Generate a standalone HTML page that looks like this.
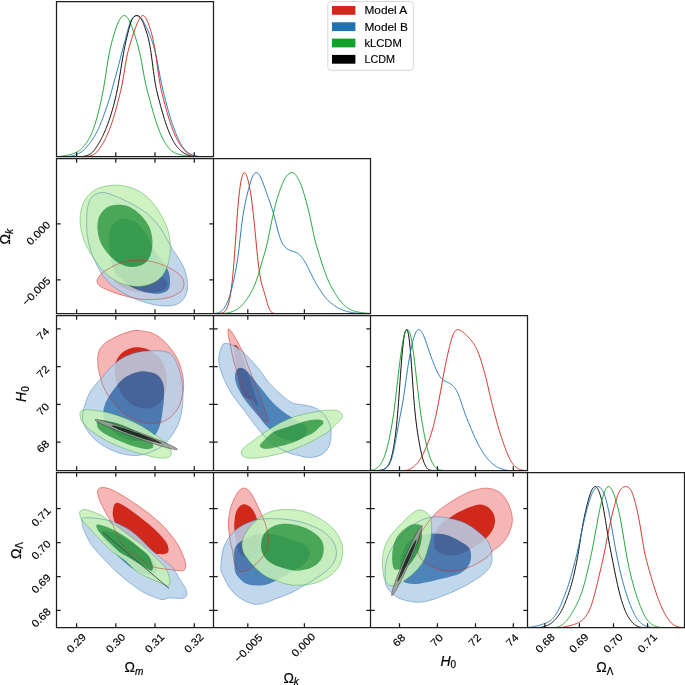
<!DOCTYPE html>
<html><head><meta charset="utf-8"><style>html,body{margin:0;padding:0;background:#fff;overflow:hidden}svg{display:block} svg{will-change:transform}</style></head>
<body><svg width="685" height="685" viewBox="0 0 685 685">
<rect width="685" height="685" fill="#fff"/>
<defs>
<clipPath id="cp00"><rect x="56.5" y="1.5" width="157" height="155.0"/></clipPath>
<clipPath id="cp10"><rect x="56.5" y="158.5" width="157" height="155.0"/></clipPath>
<clipPath id="cp11"><rect x="213.5" y="158.5" width="157" height="155.0"/></clipPath>
<clipPath id="cp20"><rect x="56.5" y="315.5" width="157" height="155.0"/></clipPath>
<clipPath id="cp21"><rect x="213.5" y="315.5" width="157" height="155.0"/></clipPath>
<clipPath id="cp22"><rect x="370.5" y="315.5" width="157" height="155.0"/></clipPath>
<clipPath id="cp30"><rect x="56.5" y="472.5" width="157" height="155.0"/></clipPath>
<clipPath id="cp31"><rect x="213.5" y="472.5" width="157" height="155.0"/></clipPath>
<clipPath id="cp32"><rect x="370.5" y="472.5" width="157" height="155.0"/></clipPath>
<clipPath id="cp33"><rect x="527.5" y="472.5" width="157" height="155.0"/></clipPath>
</defs>
<g clip-path="url(#cp10)">
<g><path d="M97.06,280.26C97.48,278.45 99.18,275.88 100.98,274.03C102.79,272.19 104.64,271.03 107.9,269.19C111.17,267.34 115.78,264.46 120.59,262.96C125.4,261.46 131.36,260.38 136.74,260.19C142.12,260 147.5,260.58 152.89,261.81C158.27,263.04 164.42,265.27 169.03,267.57C173.65,269.88 178.07,272.96 180.57,275.65C183.07,278.34 184.03,281.03 184.03,283.72C184.03,286.41 183.45,289.41 180.57,291.79C177.68,294.18 172.11,296.72 166.73,298.02C161.34,299.33 153.58,299.6 148.27,299.64C142.97,299.68 140.08,299.25 134.89,298.25C129.7,297.25 122.32,295.29 117.13,293.64C111.94,291.99 106.87,289.8 103.75,288.33C100.64,286.87 99.56,286.22 98.45,284.87C97.33,283.53 96.64,282.07 97.06,280.26Z" fill="rgb(247,182,182)"/>
<path d="M167.31,285.02C167.22,285.61 167.01,286.19 166.7,286.75C166.38,287.3 165.95,287.83 165.43,288.33C164.9,288.82 164.26,289.29 163.54,289.72C162.81,290.15 161.98,290.54 161.07,290.89C160.17,291.24 159.16,291.55 158.09,291.81C157.03,292.08 155.87,292.29 154.68,292.46C153.48,292.63 152.2,292.75 150.9,292.82C149.6,292.89 148.23,292.91 146.86,292.88C145.49,292.85 144.07,292.77 142.66,292.65C141.25,292.52 139.81,292.34 138.39,292.11C136.98,291.89 135.56,291.62 134.17,291.3C132.79,290.99 131.42,290.63 130.1,290.23C128.79,289.83 127.5,289.39 126.28,288.92C125.06,288.45 123.89,287.94 122.8,287.41C121.71,286.88 120.68,286.32 119.75,285.74C118.82,285.16 117.96,284.56 117.2,283.94C116.45,283.33 115.78,282.7 115.22,282.07C114.66,281.44 114.2,280.79 113.85,280.16C113.51,279.52 113.27,278.88 113.14,278.26C113.01,277.64 112.99,277.02 113.09,276.43C113.18,275.83 113.39,275.25 113.7,274.7C114.02,274.15 114.44,273.61 114.97,273.12C115.5,272.62 116.13,272.15 116.86,271.72C117.59,271.3 118.42,270.9 119.32,270.55C120.23,270.2 121.24,269.89 122.3,269.63C123.37,269.37 124.52,269.15 125.72,268.98C126.92,268.81 128.19,268.69 129.5,268.62C130.8,268.55 132.16,268.53 133.54,268.56C134.91,268.59 136.33,268.67 137.74,268.8C139.15,268.93 140.59,269.11 142,269.33C143.42,269.55 144.84,269.83 146.22,270.14C147.6,270.46 148.98,270.82 150.29,271.21C151.61,271.61 152.9,272.05 154.12,272.52C155.33,272.99 156.51,273.5 157.59,274.03C158.68,274.56 159.71,275.12 160.65,275.7C161.58,276.28 162.44,276.89 163.19,277.5C163.95,278.11 164.62,278.75 165.18,279.38C165.73,280.01 166.19,280.65 166.54,281.29C166.89,281.92 167.13,282.56 167.26,283.18C167.39,283.8 167.41,284.42 167.31,285.02Z" fill="rgb(208,41,28)"/>
</g>
<g opacity="0.85"><path d="M100.98,192.6C103.67,192.22 105.79,192.79 109.06,193.76C112.32,194.72 116.36,196.45 120.59,198.37C124.82,200.29 129.82,202.6 134.43,205.29C139.04,207.98 144.04,210.86 148.27,214.52C152.5,218.17 156.73,223.17 159.81,227.2C162.88,231.24 164.61,235.09 166.73,238.74C168.84,242.39 170.38,245.66 172.49,249.12C174.61,252.58 177.3,255.85 179.41,259.5C181.53,263.15 183.84,267 185.18,271.03C186.53,275.07 187.3,279.88 187.49,283.72C187.68,287.57 187.49,291.03 186.33,294.1C185.18,297.18 183.07,300.25 180.57,302.18C178.07,304.1 174.8,305.06 171.34,305.64C167.88,306.21 164.04,306.14 159.81,305.64C155.58,305.14 150.58,303.98 145.97,302.64C141.35,301.29 136.55,299.56 132.12,297.56C127.7,295.56 123.09,292.95 119.44,290.64C115.78,288.33 113.09,286.41 110.21,283.72C107.33,281.03 104.44,277.76 102.14,274.49C99.83,271.23 98.29,268.15 96.37,264.11C94.45,260.08 92.14,255.27 90.6,250.27C89.06,245.27 87.8,239.51 87.14,234.12C86.49,228.74 86.49,222.98 86.68,217.98C86.87,212.98 87.26,207.79 88.3,204.14C89.33,200.48 90.79,197.98 92.91,196.06C95.02,194.14 98.29,192.99 100.98,192.6Z" fill="rgb(183,209,233)"/>
<path d="M119.44,219.13C122.32,217.4 124.63,218.55 127.51,219.13C130.39,219.71 133.66,220.09 136.74,222.59C139.81,225.09 143.47,230.28 145.97,234.12C148.46,237.97 149.81,242.2 151.73,245.66C153.65,249.12 155.38,251.81 157.5,254.89C159.61,257.96 162.5,261.04 164.42,264.11C166.34,267.19 168.11,270.07 169.03,273.34C169.96,276.61 170.26,280.84 169.96,283.72C169.65,286.6 169.26,288.99 167.19,290.64C165.11,292.29 161.42,293.45 157.5,293.64C153.58,293.83 148.16,292.99 143.66,291.79C139.16,290.6 134.16,288.6 130.51,286.49C126.86,284.37 124.28,281.3 121.74,279.11C119.21,276.92 117.01,276.22 115.28,273.34C113.55,270.46 112.32,265.65 111.36,261.81C110.4,257.96 109.71,255.65 109.52,250.27C109.33,244.89 108.56,234.7 110.21,229.51C111.86,224.32 116.55,220.86 119.44,219.13Z" fill="rgb(46,111,175)"/>
</g>
<g opacity="0.85"><path d="M112.52,185.22C117.71,184.8 122.71,185.37 127.51,186.6C132.32,187.83 137.12,189.87 141.35,192.6C145.58,195.33 149.43,198.95 152.89,202.98C156.35,207.02 159.54,212.02 162.11,216.82C164.69,221.63 166.96,226.82 168.34,231.82C169.73,236.82 170.38,241.81 170.42,246.81C170.46,251.81 169.76,257.19 168.57,261.81C167.38,266.42 165.69,271.03 163.27,274.49C160.84,277.95 157.69,280.61 154.04,282.57C150.39,284.53 145.77,285.8 141.35,286.26C136.93,286.72 131.93,286.34 127.51,285.34C123.09,284.34 118.86,282.64 114.82,280.26C110.79,277.88 106.94,274.88 103.29,271.03C99.64,267.19 95.98,262 92.91,257.19C89.83,252.39 86.91,247.39 84.84,242.2C82.76,237.01 81.11,231.24 80.45,226.05C79.8,220.86 79.99,215.67 80.91,211.06C81.84,206.44 83.41,202.02 85.99,198.37C88.56,194.72 91.95,191.33 96.37,189.14C100.79,186.95 107.33,185.64 112.52,185.22Z" fill="rgb(198,241,183)"/>
<path d="M117.13,204.83C120.98,204.71 125.78,205.1 129.82,206.9C133.85,208.71 138.08,212.29 141.35,215.67C144.62,219.05 147.58,222.98 149.43,227.2C151.27,231.43 152.23,236.43 152.42,241.04C152.62,245.66 152.04,251.04 150.58,254.89C149.12,258.73 146.73,262.08 143.66,264.11C140.58,266.15 135.97,267.11 132.12,267.11C128.28,267.11 124.44,266.15 120.59,264.11C116.75,262.08 112.32,258.35 109.06,254.89C105.79,251.43 102.91,247.58 100.98,243.35C99.06,239.12 97.83,233.93 97.52,229.51C97.21,225.09 97.6,220.48 99.14,216.82C100.68,213.17 103.75,209.6 106.75,207.6C109.75,205.6 113.29,204.94 117.13,204.83Z" fill="rgb(53,159,62)"/>
</g>
<path d="M97.06,280.26C97.48,278.45 99.18,275.88 100.98,274.03C102.79,272.19 104.64,271.03 107.9,269.19C111.17,267.34 115.78,264.46 120.59,262.96C125.4,261.46 131.36,260.38 136.74,260.19C142.12,260 147.5,260.58 152.89,261.81C158.27,263.04 164.42,265.27 169.03,267.57C173.65,269.88 178.07,272.96 180.57,275.65C183.07,278.34 184.03,281.03 184.03,283.72C184.03,286.41 183.45,289.41 180.57,291.79C177.68,294.18 172.11,296.72 166.73,298.02C161.34,299.33 153.58,299.6 148.27,299.64C142.97,299.68 140.08,299.25 134.89,298.25C129.7,297.25 122.32,295.29 117.13,293.64C111.94,291.99 106.87,289.8 103.75,288.33C100.64,286.87 99.56,286.22 98.45,284.87C97.33,283.53 96.64,282.07 97.06,280.26Z" fill="none" stroke="rgb(208,41,28)" stroke-opacity="0.55" stroke-width="0.9"/>
<path d="M100.98,192.6C103.67,192.22 105.79,192.79 109.06,193.76C112.32,194.72 116.36,196.45 120.59,198.37C124.82,200.29 129.82,202.6 134.43,205.29C139.04,207.98 144.04,210.86 148.27,214.52C152.5,218.17 156.73,223.17 159.81,227.2C162.88,231.24 164.61,235.09 166.73,238.74C168.84,242.39 170.38,245.66 172.49,249.12C174.61,252.58 177.3,255.85 179.41,259.5C181.53,263.15 183.84,267 185.18,271.03C186.53,275.07 187.3,279.88 187.49,283.72C187.68,287.57 187.49,291.03 186.33,294.1C185.18,297.18 183.07,300.25 180.57,302.18C178.07,304.1 174.8,305.06 171.34,305.64C167.88,306.21 164.04,306.14 159.81,305.64C155.58,305.14 150.58,303.98 145.97,302.64C141.35,301.29 136.55,299.56 132.12,297.56C127.7,295.56 123.09,292.95 119.44,290.64C115.78,288.33 113.09,286.41 110.21,283.72C107.33,281.03 104.44,277.76 102.14,274.49C99.83,271.23 98.29,268.15 96.37,264.11C94.45,260.08 92.14,255.27 90.6,250.27C89.06,245.27 87.8,239.51 87.14,234.12C86.49,228.74 86.49,222.98 86.68,217.98C86.87,212.98 87.26,207.79 88.3,204.14C89.33,200.48 90.79,197.98 92.91,196.06C95.02,194.14 98.29,192.99 100.98,192.6Z" fill="none" stroke="rgb(46,111,175)" stroke-opacity="0.4675" stroke-width="0.9"/>
<path d="M112.52,185.22C117.71,184.8 122.71,185.37 127.51,186.6C132.32,187.83 137.12,189.87 141.35,192.6C145.58,195.33 149.43,198.95 152.89,202.98C156.35,207.02 159.54,212.02 162.11,216.82C164.69,221.63 166.96,226.82 168.34,231.82C169.73,236.82 170.38,241.81 170.42,246.81C170.46,251.81 169.76,257.19 168.57,261.81C167.38,266.42 165.69,271.03 163.27,274.49C160.84,277.95 157.69,280.61 154.04,282.57C150.39,284.53 145.77,285.8 141.35,286.26C136.93,286.72 131.93,286.34 127.51,285.34C123.09,284.34 118.86,282.64 114.82,280.26C110.79,277.88 106.94,274.88 103.29,271.03C99.64,267.19 95.98,262 92.91,257.19C89.83,252.39 86.91,247.39 84.84,242.2C82.76,237.01 81.11,231.24 80.45,226.05C79.8,220.86 79.99,215.67 80.91,211.06C81.84,206.44 83.41,202.02 85.99,198.37C88.56,194.72 91.95,191.33 96.37,189.14C100.79,186.95 107.33,185.64 112.52,185.22Z" fill="none" stroke="rgb(53,159,62)" stroke-opacity="0.4675" stroke-width="0.9"/>
</g>
<g clip-path="url(#cp20)">
<g><path d="M137.89,330.46C141.74,330.76 148.46,331.61 152.89,333.45C157.31,335.3 160.77,338.07 164.42,341.53C168.07,344.99 172.11,349.99 174.8,354.22C177.49,358.44 179.11,362.29 180.57,366.9C182.03,371.52 183.26,377.09 183.57,381.9C183.87,386.7 183.49,391.12 182.41,395.74C181.34,400.35 179.72,405.54 177.11,409.58C174.49,413.62 170.76,417.65 166.73,419.96C162.69,422.27 157.5,423.23 152.89,423.42C148.27,423.61 143.66,422.65 139.04,421.11C134.43,419.58 129.43,417.27 125.2,414.19C120.98,411.12 116.94,406.5 113.67,402.66C110.4,398.81 107.71,394.97 105.6,391.12C103.48,387.28 102.25,383.82 100.98,379.59C99.71,375.36 98.37,370.36 97.98,365.75C97.6,361.14 97.41,355.75 98.68,351.91C99.94,348.06 102.33,345.37 105.6,342.68C108.86,339.99 114.25,337.61 118.28,335.76C122.32,333.92 126.55,332.49 129.82,331.61C133.09,330.72 134.05,330.15 137.89,330.46Z" fill="rgb(247,182,182)"/>
<path d="M139.04,347.3C142.51,347.68 146.73,348.45 150.58,350.76C154.42,353.06 159.5,357.1 162.11,361.14C164.73,365.17 165.69,369.98 166.27,374.98C166.84,379.98 166.65,386.51 165.57,391.12C164.5,395.74 162.69,399.78 159.81,402.66C156.92,405.54 152.5,407.85 148.27,408.43C144.04,409 138.66,408.23 134.43,406.12C130.2,404 125.9,399.78 122.9,395.74C119.9,391.7 117.78,386.9 116.44,381.9C115.09,376.9 114.13,370.36 114.82,365.75C115.52,361.14 118.09,357.1 120.59,354.22C123.09,351.33 126.74,349.6 129.82,348.45C132.89,347.3 135.58,346.91 139.04,347.3Z" fill="rgb(208,41,28)"/>
</g>
<g opacity="0.85"><path d="M152.89,350.76C157.11,350.68 161.34,350.87 164.42,351.45C167.5,352.02 169.42,352.6 171.34,354.22C173.26,355.83 174.42,357.68 175.95,361.14C177.49,364.6 179.41,369.98 180.57,374.98C181.72,379.98 182.57,385.74 182.87,391.12C183.18,396.51 182.99,402.27 182.41,407.27C181.84,412.27 180.88,416.88 179.41,421.11C177.95,425.34 176.15,428.8 173.65,432.65C171.15,436.49 167.88,441.11 164.42,444.18C160.96,447.26 157.11,449.26 152.89,451.1C148.66,452.95 143.66,454.68 139.04,455.25C134.43,455.83 129.82,455.45 125.2,454.56C120.59,453.68 115.98,452.06 111.36,449.95C106.75,447.83 101.56,445.14 97.52,441.87C93.49,438.61 89.64,434.18 87.14,430.34C84.64,426.5 82.91,423.04 82.53,418.81C82.14,414.58 83.49,409.58 84.84,404.97C86.18,400.35 87.72,395.74 90.6,391.12C93.49,386.51 98.29,381.71 102.14,377.28C105.98,372.86 109.83,368.06 113.67,364.6C117.51,361.14 120.98,358.64 125.2,356.52C129.43,354.41 134.43,352.87 139.04,351.91C143.66,350.95 148.66,350.83 152.89,350.76Z" fill="rgb(183,209,233)"/>
<path d="M145.97,371.52C149.43,371.98 154.62,372.86 157.5,374.98C160.38,377.09 162.19,380.36 163.27,384.2C164.34,388.05 164.15,393.05 163.96,398.04C163.77,403.04 162.81,409.58 162.11,414.19C161.42,418.81 160.96,422.27 159.81,425.73C158.65,429.19 157.11,432.65 155.19,434.95C153.27,437.26 152.12,438.61 148.27,439.57C144.43,440.53 137.12,441.49 132.12,440.72C127.13,439.95 122.71,437.84 118.28,434.95C113.86,432.07 108.1,427.26 105.6,423.42C103.1,419.58 103.1,415.73 103.29,411.89C103.48,408.04 104.64,404.58 106.75,400.35C108.86,396.12 112.9,390.36 115.98,386.51C119.05,382.67 121.74,379.67 125.2,377.28C128.66,374.9 133.28,373.17 136.74,372.21C140.2,371.25 142.51,371.06 145.97,371.52Z" fill="rgb(46,111,175)"/>
</g>
<g opacity="0.85"><path d="M81.37,410.73C83.49,409.66 87.53,409.46 92.91,410.04C98.29,410.62 106.37,411.96 113.67,414.19C120.98,416.42 129.82,419.96 136.74,423.42C143.66,426.88 150.19,431.49 155.19,434.95C160.19,438.41 164.04,441.3 166.73,444.18C169.42,447.06 170.96,450.14 171.34,452.25C171.72,454.37 170.96,455.91 169.03,456.87C167.11,457.83 164.04,458.41 159.81,458.02C155.58,457.64 149.43,456.1 143.66,454.56C137.89,453.02 131.36,451.1 125.2,448.79C119.05,446.49 112.52,443.8 106.75,440.72C100.98,437.65 94.64,433.42 90.6,430.34C86.57,427.26 84.26,424.57 82.53,422.27C80.8,419.96 80.41,418.42 80.22,416.5C80.03,414.58 79.26,411.81 81.37,410.73Z" fill="rgb(198,241,183)"/>
<path d="M98.68,419.96C101.44,419.58 108.1,420.73 113.67,422.27C119.24,423.8 126.55,426.69 132.12,429.19C137.7,431.69 143.66,434.76 147.12,437.26C150.58,439.76 152.12,442.34 152.89,444.18C153.65,446.03 153.27,447.56 151.73,448.33C150.19,449.1 147.7,449.49 143.66,448.79C139.62,448.1 132.89,446.1 127.51,444.18C122.13,442.26 115.98,439.57 111.36,437.26C106.75,434.95 102.21,432.45 99.83,430.34C97.45,428.23 97.25,426.3 97.06,424.57C96.87,422.84 95.91,420.34 98.68,419.96Z" fill="rgb(53,159,62)"/>
</g>
<g opacity="0.85"><path d="M177.4,449.45C177.35,449.6 177.12,449.69 176.73,449.71C176.34,449.74 175.78,449.7 175.07,449.6C174.35,449.5 173.47,449.34 172.44,449.12C171.42,448.9 170.23,448.61 168.93,448.28C167.62,447.94 166.16,447.54 164.6,447.1C163.04,446.66 161.35,446.16 159.58,445.62C157.81,445.08 155.92,444.49 153.98,443.86C152.04,443.24 150,442.57 147.94,441.88C145.88,441.19 143.74,440.46 141.61,439.72C139.48,438.98 137.3,438.2 135.15,437.43C133,436.66 130.82,435.86 128.71,435.07C126.59,434.28 124.48,433.49 122.45,432.7C120.42,431.92 118.43,431.14 116.53,430.38C114.64,429.63 112.81,428.88 111.1,428.16C109.39,427.45 107.77,426.76 106.28,426.1C104.8,425.45 103.42,424.83 102.2,424.26C100.98,423.68 99.89,423.14 98.96,422.66C98.03,422.18 97.24,421.74 96.63,421.36C96.01,420.98 95.56,420.65 95.27,420.39C94.99,420.12 94.87,419.91 94.92,419.76C94.98,419.61 95.2,419.53 95.59,419.5C95.98,419.48 96.54,419.52 97.26,419.62C97.97,419.72 98.86,419.88 99.88,420.1C100.9,420.32 102.09,420.6 103.4,420.94C104.7,421.27 106.16,421.67 107.72,422.11C109.28,422.56 110.97,423.06 112.74,423.6C114.51,424.14 116.4,424.73 118.34,425.35C120.28,425.98 122.32,426.65 124.38,427.34C126.45,428.03 128.58,428.76 130.71,429.5C132.85,430.24 135.03,431.01 137.18,431.79C139.33,432.56 141.5,433.36 143.62,434.14C145.73,434.93 147.84,435.73 149.87,436.51C151.9,437.29 153.9,438.08 155.79,438.83C157.68,439.59 159.51,440.34 161.22,441.05C162.93,441.76 164.56,442.46 166.04,443.11C167.52,443.76 168.9,444.39 170.12,444.96C171.34,445.53 172.44,446.07 173.37,446.56C174.3,447.04 175.08,447.48 175.7,447.86C176.31,448.24 176.77,448.56 177.05,448.83C177.33,449.1 177.45,449.31 177.4,449.45Z" fill="rgb(158,158,158)"/>
<path d="M161.96,443.42C161.93,443.52 161.79,443.57 161.56,443.59C161.32,443.6 160.97,443.58 160.54,443.53C160.1,443.47 159.56,443.37 158.93,443.24C158.31,443.11 157.58,442.94 156.78,442.74C155.98,442.54 155.09,442.3 154.14,442.04C153.19,441.77 152.15,441.47 151.07,441.15C149.98,440.83 148.83,440.47 147.64,440.1C146.45,439.72 145.21,439.32 143.95,438.91C142.69,438.49 141.38,438.05 140.08,437.61C138.77,437.16 137.44,436.7 136.12,436.23C134.81,435.77 133.48,435.29 132.18,434.81C130.89,434.34 129.6,433.86 128.36,433.39C127.12,432.92 125.9,432.44 124.74,431.99C123.58,431.53 122.46,431.08 121.41,430.65C120.37,430.22 119.37,429.8 118.47,429.41C117.56,429.01 116.72,428.64 115.97,428.29C115.22,427.94 114.55,427.62 113.98,427.32C113.42,427.03 112.93,426.77 112.56,426.53C112.18,426.3 111.9,426.1 111.73,425.94C111.55,425.78 111.48,425.65 111.51,425.56C111.55,425.47 111.68,425.41 111.92,425.4C112.16,425.38 112.5,425.4 112.94,425.46C113.38,425.52 113.92,425.61 114.54,425.74C115.17,425.87 115.89,426.04 116.69,426.24C117.49,426.44 118.38,426.68 119.34,426.95C120.29,427.21 121.33,427.51 122.41,427.83C123.49,428.16 124.65,428.51 125.84,428.89C127.02,429.26 128.27,429.66 129.53,430.08C130.79,430.49 132.1,430.93 133.4,431.38C134.7,431.82 136.04,432.29 137.35,432.75C138.67,433.22 140,433.7 141.29,434.17C142.59,434.65 143.88,435.13 145.12,435.6C146.36,436.07 147.58,436.54 148.74,437C149.9,437.45 151.02,437.91 152.06,438.34C153.11,438.77 154.1,439.19 155.01,439.58C155.92,439.97 156.76,440.35 157.51,440.7C158.25,441.04 158.92,441.37 159.49,441.66C160.06,441.95 160.54,442.22 160.92,442.45C161.29,442.68 161.57,442.88 161.75,443.04C161.92,443.21 161.99,443.33 161.96,443.42Z" fill="rgb(28,28,28)"/>
</g>
<path d="M137.89,330.46C141.74,330.76 148.46,331.61 152.89,333.45C157.31,335.3 160.77,338.07 164.42,341.53C168.07,344.99 172.11,349.99 174.8,354.22C177.49,358.44 179.11,362.29 180.57,366.9C182.03,371.52 183.26,377.09 183.57,381.9C183.87,386.7 183.49,391.12 182.41,395.74C181.34,400.35 179.72,405.54 177.11,409.58C174.49,413.62 170.76,417.65 166.73,419.96C162.69,422.27 157.5,423.23 152.89,423.42C148.27,423.61 143.66,422.65 139.04,421.11C134.43,419.58 129.43,417.27 125.2,414.19C120.98,411.12 116.94,406.5 113.67,402.66C110.4,398.81 107.71,394.97 105.6,391.12C103.48,387.28 102.25,383.82 100.98,379.59C99.71,375.36 98.37,370.36 97.98,365.75C97.6,361.14 97.41,355.75 98.68,351.91C99.94,348.06 102.33,345.37 105.6,342.68C108.86,339.99 114.25,337.61 118.28,335.76C122.32,333.92 126.55,332.49 129.82,331.61C133.09,330.72 134.05,330.15 137.89,330.46Z" fill="none" stroke="rgb(208,41,28)" stroke-opacity="0.55" stroke-width="0.9"/>
<path d="M152.89,350.76C157.11,350.68 161.34,350.87 164.42,351.45C167.5,352.02 169.42,352.6 171.34,354.22C173.26,355.83 174.42,357.68 175.95,361.14C177.49,364.6 179.41,369.98 180.57,374.98C181.72,379.98 182.57,385.74 182.87,391.12C183.18,396.51 182.99,402.27 182.41,407.27C181.84,412.27 180.88,416.88 179.41,421.11C177.95,425.34 176.15,428.8 173.65,432.65C171.15,436.49 167.88,441.11 164.42,444.18C160.96,447.26 157.11,449.26 152.89,451.1C148.66,452.95 143.66,454.68 139.04,455.25C134.43,455.83 129.82,455.45 125.2,454.56C120.59,453.68 115.98,452.06 111.36,449.95C106.75,447.83 101.56,445.14 97.52,441.87C93.49,438.61 89.64,434.18 87.14,430.34C84.64,426.5 82.91,423.04 82.53,418.81C82.14,414.58 83.49,409.58 84.84,404.97C86.18,400.35 87.72,395.74 90.6,391.12C93.49,386.51 98.29,381.71 102.14,377.28C105.98,372.86 109.83,368.06 113.67,364.6C117.51,361.14 120.98,358.64 125.2,356.52C129.43,354.41 134.43,352.87 139.04,351.91C143.66,350.95 148.66,350.83 152.89,350.76Z" fill="none" stroke="rgb(46,111,175)" stroke-opacity="0.4675" stroke-width="0.9"/>
<path d="M81.37,410.73C83.49,409.66 87.53,409.46 92.91,410.04C98.29,410.62 106.37,411.96 113.67,414.19C120.98,416.42 129.82,419.96 136.74,423.42C143.66,426.88 150.19,431.49 155.19,434.95C160.19,438.41 164.04,441.3 166.73,444.18C169.42,447.06 170.96,450.14 171.34,452.25C171.72,454.37 170.96,455.91 169.03,456.87C167.11,457.83 164.04,458.41 159.81,458.02C155.58,457.64 149.43,456.1 143.66,454.56C137.89,453.02 131.36,451.1 125.2,448.79C119.05,446.49 112.52,443.8 106.75,440.72C100.98,437.65 94.64,433.42 90.6,430.34C86.57,427.26 84.26,424.57 82.53,422.27C80.8,419.96 80.41,418.42 80.22,416.5C80.03,414.58 79.26,411.81 81.37,410.73Z" fill="none" stroke="rgb(53,159,62)" stroke-opacity="0.4675" stroke-width="0.9"/>
<path d="M177.4,449.45C177.35,449.6 177.12,449.69 176.73,449.71C176.34,449.74 175.78,449.7 175.07,449.6C174.35,449.5 173.47,449.34 172.44,449.12C171.42,448.9 170.23,448.61 168.93,448.28C167.62,447.94 166.16,447.54 164.6,447.1C163.04,446.66 161.35,446.16 159.58,445.62C157.81,445.08 155.92,444.49 153.98,443.86C152.04,443.24 150,442.57 147.94,441.88C145.88,441.19 143.74,440.46 141.61,439.72C139.48,438.98 137.3,438.2 135.15,437.43C133,436.66 130.82,435.86 128.71,435.07C126.59,434.28 124.48,433.49 122.45,432.7C120.42,431.92 118.43,431.14 116.53,430.38C114.64,429.63 112.81,428.88 111.1,428.16C109.39,427.45 107.77,426.76 106.28,426.1C104.8,425.45 103.42,424.83 102.2,424.26C100.98,423.68 99.89,423.14 98.96,422.66C98.03,422.18 97.24,421.74 96.63,421.36C96.01,420.98 95.56,420.65 95.27,420.39C94.99,420.12 94.87,419.91 94.92,419.76C94.98,419.61 95.2,419.53 95.59,419.5C95.98,419.48 96.54,419.52 97.26,419.62C97.97,419.72 98.86,419.88 99.88,420.1C100.9,420.32 102.09,420.6 103.4,420.94C104.7,421.27 106.16,421.67 107.72,422.11C109.28,422.56 110.97,423.06 112.74,423.6C114.51,424.14 116.4,424.73 118.34,425.35C120.28,425.98 122.32,426.65 124.38,427.34C126.45,428.03 128.58,428.76 130.71,429.5C132.85,430.24 135.03,431.01 137.18,431.79C139.33,432.56 141.5,433.36 143.62,434.14C145.73,434.93 147.84,435.73 149.87,436.51C151.9,437.29 153.9,438.08 155.79,438.83C157.68,439.59 159.51,440.34 161.22,441.05C162.93,441.76 164.56,442.46 166.04,443.11C167.52,443.76 168.9,444.39 170.12,444.96C171.34,445.53 172.44,446.07 173.37,446.56C174.3,447.04 175.08,447.48 175.7,447.86C176.31,448.24 176.77,448.56 177.05,448.83C177.33,449.1 177.45,449.31 177.4,449.45Z" fill="none" stroke="rgb(28,28,28)" stroke-opacity="0.4675" stroke-width="0.9"/>
</g>
<g clip-path="url(#cp21)">
<g><path d="M228.46,328.84C228.99,328.34 230.19,329.88 231.45,331.61C232.72,333.34 234.07,335.65 236.07,339.22C238.07,342.8 241.53,348.83 243.45,353.06C245.37,357.29 245.95,360.17 247.6,364.6C249.26,369.02 251.45,374.71 253.37,379.59C255.29,384.47 257.41,389.28 259.14,393.89C260.87,398.51 262.4,403.31 263.75,407.27C265.1,411.23 266.56,415.27 267.21,417.65C267.86,420.04 267.86,420.84 267.67,421.57C267.48,422.3 266.9,422.5 266.06,422.04C265.21,421.57 264.52,421.27 262.6,418.81C260.67,416.35 257.21,411.42 254.52,407.27C251.83,403.12 248.95,398.51 246.45,393.89C243.95,389.28 241.64,385.05 239.53,379.59C237.41,374.13 235.3,366.9 233.76,361.14C232.22,355.37 231.22,349.41 230.3,344.99C229.38,340.57 228.53,337.3 228.22,334.61C227.92,331.92 227.92,329.34 228.46,328.84Z" fill="rgb(247,182,182)"/>
<path d="M234.91,344.99C235.8,344.99 237.61,345.76 239.53,349.6C241.45,353.45 243.95,360.67 246.45,368.06C248.95,375.44 252.6,387.93 254.52,393.89C256.44,399.85 257.6,401.77 257.98,403.81C258.37,405.85 257.79,406.7 256.83,406.12C255.87,405.54 254.71,402.39 252.22,400.35C249.72,398.31 244.45,399.28 241.84,393.89C239.22,388.51 237.8,375.44 236.53,368.06C235.26,360.67 234.49,353.45 234.22,349.6C233.95,345.76 234.03,344.99 234.91,344.99Z" fill="rgb(208,41,28)"/>
</g>
<g opacity="0.85"><path d="M223.38,343.84C225.11,342.57 227.8,343.53 230.3,344.3C232.8,345.07 235.49,346.41 238.37,348.45C241.26,350.49 244.14,353.06 247.6,356.52C251.06,359.98 255.68,364.98 259.14,369.21C262.6,373.44 264.71,377.67 268.36,381.9C272.02,386.13 277.13,391.12 281.05,394.58C284.97,398.04 288.16,400.93 291.89,402.66C295.62,404.39 299.58,404.12 303.43,404.97C307.27,405.81 311.5,406.12 314.96,407.73C318.42,409.35 321.69,411.77 324.19,414.65C326.69,417.54 328.8,421.77 329.96,425.03C331.11,428.3 331.3,430.61 331.11,434.26C330.92,437.91 330.53,443.49 328.8,446.95C327.07,450.41 324,453.25 320.73,455.02C317.46,456.79 313.04,457.52 309.19,457.56C305.35,457.6 301,456.02 297.66,455.25C294.31,454.48 293.24,454.79 289.12,452.95C285.01,451.1 277.98,447.95 272.98,444.18C267.98,440.41 263.75,435.72 259.14,430.34C254.52,424.96 249.91,418.04 245.3,411.89C240.68,405.73 235.3,399.58 231.45,393.43C227.61,387.28 224.34,380.36 222.23,374.98C220.11,369.59 219.15,364.98 218.77,361.14C218.38,357.29 219.15,354.79 219.92,351.91C220.69,349.03 221.65,345.1 223.38,343.84Z" fill="rgb(183,209,233)"/>
<path d="M238.84,368.06C240.57,367.17 243.07,368.13 245.3,369.67C247.53,371.21 249.52,374.09 252.22,377.28C254.91,380.47 257.98,384.59 261.44,388.82C264.9,393.05 268.75,398.43 272.98,402.66C277.21,406.89 282.59,411.12 286.82,414.19C291.05,417.27 295.28,419.19 298.35,421.11C301.43,423.04 303.93,423.8 305.27,425.73C306.62,427.65 307.19,430.34 306.43,432.65C305.66,434.95 303.16,438.22 300.66,439.57C298.16,440.91 294.89,441.11 291.43,440.72C287.97,440.34 283.74,439.38 279.9,437.26C276.05,435.15 272.21,431.88 268.36,428.03C264.52,424.19 260.67,418.81 256.83,414.19C252.98,409.58 248.56,404.97 245.3,400.35C242.03,395.74 238.95,390.74 237.22,386.51C235.49,382.28 234.65,378.05 234.91,374.98C235.18,371.9 237.11,368.94 238.84,368.06Z" fill="rgb(46,111,175)"/>
</g>
<g opacity="0.85"><path d="M241.14,452.25C241.34,450.52 243.64,448.14 245.3,446.49C246.95,444.83 248.56,444.18 251.06,442.34C253.56,440.49 257.14,437.65 260.29,435.42C263.44,433.19 266.71,431.03 269.98,428.96C273.25,426.88 276.4,424.8 279.9,422.96C283.4,421.11 286.78,419.38 290.97,417.88C295.16,416.38 300.35,415.08 305.04,413.96C309.73,412.85 314.96,411.85 319.11,411.19C323.27,410.54 326.88,410.12 329.96,410.04C333.03,409.96 335.65,410.16 337.57,410.73C339.49,411.31 340.64,412.54 341.49,413.5C342.33,414.46 342.8,415.42 342.64,416.5C342.49,417.58 341.41,418.92 340.57,419.96C339.72,421 339.34,421 337.57,422.73C335.8,424.46 333.03,427.92 329.96,430.34C326.88,432.76 323.27,434.88 319.11,437.26C314.96,439.64 310.31,442.26 305.04,444.64C299.77,447.03 293.35,449.68 287.51,451.56C281.67,453.45 275.67,454.83 269.98,455.95C264.29,457.06 257.68,458.1 253.37,458.25C249.06,458.41 246.18,457.87 244.14,456.87C242.1,455.87 240.95,453.99 241.14,452.25Z" fill="rgb(198,241,183)"/>
<path d="M259.83,445.33C260.21,443.87 262.71,441.76 264.9,439.57C267.09,437.38 269.21,434.26 272.98,432.19C276.74,430.11 282.17,428.92 287.51,427.11C292.85,425.3 300.35,422.61 305.04,421.34C309.73,420.07 312.85,419.69 315.65,419.5C318.46,419.31 320.61,419.54 321.88,420.19C323.15,420.84 323.73,422.19 323.27,423.42C322.8,424.65 320.69,426.07 319.11,427.57C317.54,429.07 316.11,430.88 313.81,432.42C311.5,433.95 308.19,435.34 305.27,436.8C302.35,438.26 299.24,439.95 296.28,441.18C293.32,442.41 290.43,443.3 287.51,444.18C284.59,445.07 281.94,445.72 278.74,446.49C275.55,447.26 271.05,448.49 268.36,448.79C265.67,449.1 264.02,448.91 262.6,448.33C261.17,447.76 259.44,446.8 259.83,445.33Z" fill="rgb(53,159,62)"/>
</g>
<path d="M228.46,328.84C228.99,328.34 230.19,329.88 231.45,331.61C232.72,333.34 234.07,335.65 236.07,339.22C238.07,342.8 241.53,348.83 243.45,353.06C245.37,357.29 245.95,360.17 247.6,364.6C249.26,369.02 251.45,374.71 253.37,379.59C255.29,384.47 257.41,389.28 259.14,393.89C260.87,398.51 262.4,403.31 263.75,407.27C265.1,411.23 266.56,415.27 267.21,417.65C267.86,420.04 267.86,420.84 267.67,421.57C267.48,422.3 266.9,422.5 266.06,422.04C265.21,421.57 264.52,421.27 262.6,418.81C260.67,416.35 257.21,411.42 254.52,407.27C251.83,403.12 248.95,398.51 246.45,393.89C243.95,389.28 241.64,385.05 239.53,379.59C237.41,374.13 235.3,366.9 233.76,361.14C232.22,355.37 231.22,349.41 230.3,344.99C229.38,340.57 228.53,337.3 228.22,334.61C227.92,331.92 227.92,329.34 228.46,328.84Z" fill="none" stroke="rgb(208,41,28)" stroke-opacity="0.55" stroke-width="0.9"/>
<path d="M223.38,343.84C225.11,342.57 227.8,343.53 230.3,344.3C232.8,345.07 235.49,346.41 238.37,348.45C241.26,350.49 244.14,353.06 247.6,356.52C251.06,359.98 255.68,364.98 259.14,369.21C262.6,373.44 264.71,377.67 268.36,381.9C272.02,386.13 277.13,391.12 281.05,394.58C284.97,398.04 288.16,400.93 291.89,402.66C295.62,404.39 299.58,404.12 303.43,404.97C307.27,405.81 311.5,406.12 314.96,407.73C318.42,409.35 321.69,411.77 324.19,414.65C326.69,417.54 328.8,421.77 329.96,425.03C331.11,428.3 331.3,430.61 331.11,434.26C330.92,437.91 330.53,443.49 328.8,446.95C327.07,450.41 324,453.25 320.73,455.02C317.46,456.79 313.04,457.52 309.19,457.56C305.35,457.6 301,456.02 297.66,455.25C294.31,454.48 293.24,454.79 289.12,452.95C285.01,451.1 277.98,447.95 272.98,444.18C267.98,440.41 263.75,435.72 259.14,430.34C254.52,424.96 249.91,418.04 245.3,411.89C240.68,405.73 235.3,399.58 231.45,393.43C227.61,387.28 224.34,380.36 222.23,374.98C220.11,369.59 219.15,364.98 218.77,361.14C218.38,357.29 219.15,354.79 219.92,351.91C220.69,349.03 221.65,345.1 223.38,343.84Z" fill="none" stroke="rgb(46,111,175)" stroke-opacity="0.4675" stroke-width="0.9"/>
<path d="M241.14,452.25C241.34,450.52 243.64,448.14 245.3,446.49C246.95,444.83 248.56,444.18 251.06,442.34C253.56,440.49 257.14,437.65 260.29,435.42C263.44,433.19 266.71,431.03 269.98,428.96C273.25,426.88 276.4,424.8 279.9,422.96C283.4,421.11 286.78,419.38 290.97,417.88C295.16,416.38 300.35,415.08 305.04,413.96C309.73,412.85 314.96,411.85 319.11,411.19C323.27,410.54 326.88,410.12 329.96,410.04C333.03,409.96 335.65,410.16 337.57,410.73C339.49,411.31 340.64,412.54 341.49,413.5C342.33,414.46 342.8,415.42 342.64,416.5C342.49,417.58 341.41,418.92 340.57,419.96C339.72,421 339.34,421 337.57,422.73C335.8,424.46 333.03,427.92 329.96,430.34C326.88,432.76 323.27,434.88 319.11,437.26C314.96,439.64 310.31,442.26 305.04,444.64C299.77,447.03 293.35,449.68 287.51,451.56C281.67,453.45 275.67,454.83 269.98,455.95C264.29,457.06 257.68,458.1 253.37,458.25C249.06,458.41 246.18,457.87 244.14,456.87C242.1,455.87 240.95,453.99 241.14,452.25Z" fill="none" stroke="rgb(53,159,62)" stroke-opacity="0.4675" stroke-width="0.9"/>
</g>
<g clip-path="url(#cp30)">
<g><path d="M100.98,487.69C103.29,487.34 106.56,487.46 111.36,489.53C116.17,491.61 123.67,496.22 129.82,500.14C135.97,504.06 142.51,508.52 148.27,513.06C154.04,517.6 159.61,522.29 164.42,527.36C169.23,532.44 173.95,538.71 177.11,543.51C180.26,548.32 181.87,552.55 183.34,556.2C184.8,559.85 185.76,563.12 185.87,565.43C185.99,567.73 185.3,569.15 184.03,570.04C182.76,570.92 180.38,570.81 178.26,570.73C176.15,570.65 173.76,569.89 171.34,569.58C168.92,569.27 166.92,569.39 163.73,568.89C160.54,568.39 155.54,567.85 152.19,566.58C148.85,565.31 146.54,563.27 143.66,561.27C140.78,559.27 137.58,556.47 134.89,554.58C132.2,552.7 129.82,552.01 127.51,549.97C125.2,547.93 122.78,544.97 121.05,542.36C119.32,539.74 118.36,536.86 117.13,534.28C115.9,531.71 114.63,528.82 113.67,526.9C112.71,524.98 112.71,525.17 111.36,522.75C110.02,520.33 107.52,516.02 105.6,512.37C103.67,508.72 101.17,504.3 99.83,500.84C98.48,497.37 97.33,493.8 97.52,491.61C97.71,489.42 98.68,488.03 100.98,487.69Z" fill="rgb(247,182,182)"/>
<path d="M115.52,503.14C117.59,502.07 120.9,504.1 125.2,506.6C129.51,509.1 136.35,514.29 141.35,518.14C146.35,521.98 151.16,525.83 155.19,529.67C159.23,533.51 163.34,537.94 165.57,541.2C167.8,544.47 168.38,547.28 168.57,549.28C168.76,551.28 168.19,552.39 166.73,553.2C165.27,554.01 161.92,554.2 159.81,554.12C157.69,554.05 157.23,554.47 154.04,552.74C150.85,551.01 144.7,546.36 140.66,543.74C136.62,541.13 133.16,539.32 129.82,537.05C126.47,534.78 123.05,532.52 120.59,530.13C118.13,527.75 116.36,525.59 115.05,522.75C113.75,519.9 112.67,516.33 112.75,513.06C112.82,509.79 113.44,504.22 115.52,503.14Z" fill="rgb(208,41,28)"/>
</g>
<g opacity="0.85"><path d="M82.53,518.14C84.37,517.52 88.1,517.41 92.91,517.91C97.71,518.41 105.98,519.56 111.36,521.13C116.75,522.71 120.98,524.98 125.2,527.36C129.43,529.75 132.24,531.59 136.74,535.44C141.24,539.28 147.58,546.2 152.19,550.43C156.81,554.66 160.96,557.85 164.42,560.81C167.88,563.77 170.26,564.93 172.96,568.19C175.65,571.46 178.45,577.04 180.57,580.42C182.68,583.8 184.64,585.99 185.64,588.49C186.64,590.99 187.22,593.76 186.57,595.41C185.91,597.07 184.64,597.99 181.72,598.41C178.8,598.84 172.3,597.76 169.03,597.95C165.77,598.14 164.8,599.8 162.11,599.57C159.42,599.34 155.96,597.76 152.89,596.57C149.81,595.38 146.66,594.07 143.66,592.42C140.66,590.76 139.12,589.8 134.89,586.65C130.66,583.5 123.74,578.38 118.28,573.5C112.82,568.62 106.75,562.35 102.14,557.35C97.52,552.35 93.68,548.12 90.6,543.51C87.53,538.9 85.14,533.32 83.68,529.67C82.22,526.02 82.03,523.52 81.84,521.6C81.64,519.67 80.68,518.75 82.53,518.14Z" fill="rgb(183,209,233)"/>
<path d="M103.29,530.82C105.6,530.55 111.17,531.9 115.98,533.82C120.78,535.74 126.74,539.01 132.12,542.36C137.51,545.7 144.24,550.05 148.27,553.89C152.31,557.74 155.19,562.16 156.35,565.43C157.5,568.69 156.54,571.96 155.19,573.5C153.85,575.04 151.66,575.23 148.27,574.65C144.89,574.08 139.12,572.35 134.89,570.04C130.66,567.73 126.63,564.08 122.9,560.81C119.17,557.54 115.52,553.7 112.52,550.43C109.52,547.16 106.63,543.7 104.9,541.2C103.17,538.71 102.41,537.17 102.14,535.44C101.87,533.71 100.98,531.09 103.29,530.82Z" fill="rgb(46,111,175)"/>
</g>
<g opacity="0.85"><path d="M80.22,511.22C81.26,510.56 82.34,508.83 85.99,509.6C89.64,510.37 98.14,513.79 102.14,515.83C106.13,517.87 106.9,519.64 109.98,521.83C113.05,524.02 117.17,526.52 120.59,528.98C124.01,531.44 127.05,533.98 130.51,536.59C133.97,539.2 137.97,541.93 141.35,544.66C144.74,547.39 147.93,550.28 150.81,552.97C153.69,555.66 156.27,558.43 158.65,560.81C161.04,563.2 163.38,564.77 165.11,567.27C166.84,569.77 168.23,573.31 169.03,575.81C169.84,578.31 170.15,580.65 169.96,582.27C169.76,583.88 169.57,585.42 167.88,585.49C166.19,585.57 163.84,584.42 159.81,582.73C155.77,581.03 147.81,577.46 143.66,575.34C139.51,573.23 137.97,572.46 134.89,570.04C131.82,567.62 129.13,564 125.2,560.81C121.28,557.62 115.59,554.47 111.36,550.89C107.13,547.32 103.29,542.9 99.83,539.36C96.37,535.82 93.68,533.01 90.6,529.67C87.53,526.33 83.18,521.98 81.37,519.29C79.57,516.6 79.95,514.87 79.76,513.52C79.57,512.18 79.18,511.87 80.22,511.22Z" fill="rgb(198,241,183)"/>
<path d="M97.52,524.6C99.68,524.56 106.13,526.75 109.98,528.29C113.82,529.82 117.17,531.78 120.59,533.82C124.01,535.86 127.05,537.94 130.51,540.51C133.97,543.09 138.31,546.7 141.35,549.28C144.39,551.85 146.97,553.66 148.73,555.97C150.5,558.27 151.27,561.04 151.96,563.12C152.66,565.19 153.12,567.16 152.89,568.42C152.66,569.69 152.12,571.04 150.58,570.73C149.04,570.42 146.27,568.16 143.66,566.58C141.04,565 137.97,563.12 134.89,561.27C131.82,559.43 127.97,557.24 125.2,555.51C122.44,553.78 120.98,553.08 118.28,550.89C115.59,548.7 111.94,545.13 109.06,542.36C106.17,539.59 102.98,536.59 100.98,534.28C98.98,531.98 97.64,530.13 97.06,528.52C96.48,526.9 95.37,524.63 97.52,524.6Z" fill="rgb(53,159,62)"/>
</g>
<path d="M100.98,487.69C103.29,487.34 106.56,487.46 111.36,489.53C116.17,491.61 123.67,496.22 129.82,500.14C135.97,504.06 142.51,508.52 148.27,513.06C154.04,517.6 159.61,522.29 164.42,527.36C169.23,532.44 173.95,538.71 177.11,543.51C180.26,548.32 181.87,552.55 183.34,556.2C184.8,559.85 185.76,563.12 185.87,565.43C185.99,567.73 185.3,569.15 184.03,570.04C182.76,570.92 180.38,570.81 178.26,570.73C176.15,570.65 173.76,569.89 171.34,569.58C168.92,569.27 166.92,569.39 163.73,568.89C160.54,568.39 155.54,567.85 152.19,566.58C148.85,565.31 146.54,563.27 143.66,561.27C140.78,559.27 137.58,556.47 134.89,554.58C132.2,552.7 129.82,552.01 127.51,549.97C125.2,547.93 122.78,544.97 121.05,542.36C119.32,539.74 118.36,536.86 117.13,534.28C115.9,531.71 114.63,528.82 113.67,526.9C112.71,524.98 112.71,525.17 111.36,522.75C110.02,520.33 107.52,516.02 105.6,512.37C103.67,508.72 101.17,504.3 99.83,500.84C98.48,497.37 97.33,493.8 97.52,491.61C97.71,489.42 98.68,488.03 100.98,487.69Z" fill="none" stroke="rgb(208,41,28)" stroke-opacity="0.55" stroke-width="0.9"/>
<path d="M82.53,518.14C84.37,517.52 88.1,517.41 92.91,517.91C97.71,518.41 105.98,519.56 111.36,521.13C116.75,522.71 120.98,524.98 125.2,527.36C129.43,529.75 132.24,531.59 136.74,535.44C141.24,539.28 147.58,546.2 152.19,550.43C156.81,554.66 160.96,557.85 164.42,560.81C167.88,563.77 170.26,564.93 172.96,568.19C175.65,571.46 178.45,577.04 180.57,580.42C182.68,583.8 184.64,585.99 185.64,588.49C186.64,590.99 187.22,593.76 186.57,595.41C185.91,597.07 184.64,597.99 181.72,598.41C178.8,598.84 172.3,597.76 169.03,597.95C165.77,598.14 164.8,599.8 162.11,599.57C159.42,599.34 155.96,597.76 152.89,596.57C149.81,595.38 146.66,594.07 143.66,592.42C140.66,590.76 139.12,589.8 134.89,586.65C130.66,583.5 123.74,578.38 118.28,573.5C112.82,568.62 106.75,562.35 102.14,557.35C97.52,552.35 93.68,548.12 90.6,543.51C87.53,538.9 85.14,533.32 83.68,529.67C82.22,526.02 82.03,523.52 81.84,521.6C81.64,519.67 80.68,518.75 82.53,518.14Z" fill="none" stroke="rgb(46,111,175)" stroke-opacity="0.4675" stroke-width="0.9"/>
<path d="M80.22,511.22C81.26,510.56 82.34,508.83 85.99,509.6C89.64,510.37 98.14,513.79 102.14,515.83C106.13,517.87 106.9,519.64 109.98,521.83C113.05,524.02 117.17,526.52 120.59,528.98C124.01,531.44 127.05,533.98 130.51,536.59C133.97,539.2 137.97,541.93 141.35,544.66C144.74,547.39 147.93,550.28 150.81,552.97C153.69,555.66 156.27,558.43 158.65,560.81C161.04,563.2 163.38,564.77 165.11,567.27C166.84,569.77 168.23,573.31 169.03,575.81C169.84,578.31 170.15,580.65 169.96,582.27C169.76,583.88 169.57,585.42 167.88,585.49C166.19,585.57 163.84,584.42 159.81,582.73C155.77,581.03 147.81,577.46 143.66,575.34C139.51,573.23 137.97,572.46 134.89,570.04C131.82,567.62 129.13,564 125.2,560.81C121.28,557.62 115.59,554.47 111.36,550.89C107.13,547.32 103.29,542.9 99.83,539.36C96.37,535.82 93.68,533.01 90.6,529.67C87.53,526.33 83.18,521.98 81.37,519.29C79.57,516.6 79.95,514.87 79.76,513.52C79.57,512.18 79.18,511.87 80.22,511.22Z" fill="none" stroke="rgb(53,159,62)" stroke-opacity="0.4675" stroke-width="0.9"/>
<line x1="103.29" y1="532.44" x2="169.03" y2="588.49" stroke="#444" stroke-width="0.9"/>
</g>
<g clip-path="url(#cp31)">
<g><path d="M244.14,488.15C245.68,488.53 247.6,488.53 249.91,491.61C252.22,494.68 255.48,501.41 257.98,506.6C260.48,511.79 263.17,517.75 264.9,522.75C266.63,527.75 267.86,532.75 268.36,536.59C268.86,540.44 268.21,543.43 267.9,545.82C267.59,548.2 267.52,548.89 266.52,550.89C265.52,552.89 263.83,555.51 261.9,557.81C259.98,560.12 257.29,562.7 254.98,564.73C252.68,566.77 250.25,568.89 248.06,570.04C245.87,571.19 243.64,571.77 241.84,571.65C240.03,571.54 238.49,570.89 237.22,569.35C235.95,567.81 234.99,565.39 234.22,562.43C233.45,559.47 233.26,555.12 232.61,551.58C231.95,548.05 230.99,545.63 230.3,541.2C229.61,536.78 228.46,530.44 228.46,525.06C228.46,519.67 229.03,513.91 230.3,508.91C231.57,503.91 234.34,498.34 236.07,495.07C237.8,491.8 239.34,490.45 240.68,489.3C242.03,488.15 242.6,487.76 244.14,488.15Z" fill="rgb(247,182,182)"/>
<path d="M244.14,504.3C246.06,504.49 248.95,505.45 251.06,507.76C253.18,510.06 255.48,514.1 256.83,518.14C258.17,522.17 258.94,527.36 259.14,531.98C259.33,536.59 258.94,541.97 257.98,545.82C257.02,549.66 255.29,553.12 253.37,555.04C251.45,556.97 248.76,557.74 246.45,557.35C244.14,556.97 241.26,555.43 239.53,552.74C237.8,550.05 236.95,545.43 236.07,541.2C235.18,536.98 234.3,531.98 234.22,527.36C234.15,522.75 234.72,516.98 235.61,513.52C236.49,510.06 238.11,508.14 239.53,506.6C240.95,505.06 242.22,504.1 244.14,504.3Z" fill="rgb(208,41,28)"/>
</g>
<g opacity="0.85"><path d="M221.07,564.27C221.46,560.43 221.65,553.12 223.38,548.12C225.11,543.13 228.19,538.13 231.45,534.28C234.72,530.44 238.37,527.56 242.99,525.06C247.6,522.56 253.37,520.33 259.14,519.29C264.9,518.25 271.82,518.64 277.59,518.83C283.36,519.02 288.36,519.4 293.74,520.44C299.12,521.48 304.89,523.13 309.89,525.06C314.88,526.98 319.88,529.29 323.73,531.98C327.57,534.67 330.84,537.94 332.95,541.2C335.07,544.47 336.22,548.12 336.41,551.58C336.61,555.04 335.84,558.7 334.11,561.97C332.38,565.23 329.3,568.31 326.03,571.19C322.77,574.08 318.34,576.77 314.5,579.27C310.65,581.77 306.73,584 302.97,586.19C299.2,588.38 296.12,590.42 291.89,592.42C287.66,594.41 282.09,596.45 277.59,598.18C273.09,599.91 268.75,601.8 264.9,602.8C261.06,603.8 258.37,604.76 254.52,604.18C250.68,603.6 245.87,601.87 241.84,599.34C237.8,596.8 233.38,592.8 230.3,588.96C227.23,585.11 224.92,579.23 223.38,576.27C221.84,573.31 221.46,573.19 221.07,571.19C220.69,569.19 220.69,568.12 221.07,564.27Z" fill="rgb(183,209,233)"/>
<path d="M234.91,548.12C236.34,544.09 239.34,542.36 242.99,540.05C246.64,537.74 251.83,535.24 256.83,534.28C261.83,533.32 267.59,533.51 272.98,534.28C278.36,535.05 284.13,537.36 289.12,538.9C294.12,540.44 299.58,541.59 302.97,543.51C306.35,545.43 308.46,547.93 309.42,550.43C310.39,552.93 310.19,555.81 308.73,558.51C307.27,561.2 304.31,563.89 300.66,566.58C297.01,569.27 290.66,572.46 286.82,574.65C282.97,576.84 280.67,578.19 277.59,579.73C274.51,581.27 271.82,582.92 268.36,583.88C264.9,584.84 260.67,585.61 256.83,585.49C252.98,585.38 248.76,585.11 245.3,583.19C241.84,581.27 237.88,577.11 236.07,573.96C234.26,570.81 234.65,568.58 234.45,564.27C234.26,559.97 233.49,552.16 234.91,548.12Z" fill="rgb(46,111,175)"/>
</g>
<g opacity="0.85"><path d="M284.51,509.6C289.89,509.52 297.2,509.79 302.97,511.22C308.73,512.64 314.11,515.25 319.11,518.14C324.11,521.02 329.3,524.67 332.95,528.52C336.61,532.36 339.41,536.98 341.03,541.2C342.64,545.43 343.03,549.66 342.64,553.89C342.26,558.12 341.1,562.73 338.72,566.58C336.34,570.42 332.76,574.08 328.34,576.96C323.92,579.84 318.27,582.53 312.19,583.88C306.12,585.23 297.66,585.49 291.89,585.03C286.13,584.57 282.09,582.65 277.59,581.11C273.09,579.57 268.82,578.23 264.9,575.81C260.98,573.38 257.14,569.65 254.06,566.58C250.99,563.5 248.29,559.97 246.45,557.35C244.6,554.74 243.68,553.58 242.99,550.89C242.3,548.2 241.34,544.93 242.3,541.2C243.26,537.47 245.95,532.36 248.76,528.52C251.56,524.67 255.48,520.94 259.14,518.14C262.79,515.33 266.44,513.1 270.67,511.68C274.9,510.25 279.13,509.68 284.51,509.6Z" fill="rgb(198,241,183)"/>
<path d="M282.2,523.9C286.63,523.67 293.35,524.25 298.35,525.52C303.35,526.79 308.35,529.09 312.19,531.52C316.04,533.94 319.5,536.9 321.42,540.05C323.34,543.2 323.92,546.97 323.73,550.43C323.53,553.89 322.38,557.93 320.27,560.81C318.15,563.7 315.08,566.08 311.04,567.73C307,569.39 301.24,570.85 296.04,570.73C290.85,570.62 284.32,568.5 279.9,567.04C275.48,565.58 272.28,563.96 269.52,561.97C266.75,559.97 264.71,557.74 263.29,555.04C261.87,552.35 260.9,549.28 260.98,545.82C261.06,542.36 261.94,537.44 263.75,534.28C265.56,531.13 268.75,528.63 271.82,526.9C274.9,525.17 277.78,524.13 282.2,523.9Z" fill="rgb(53,159,62)"/>
</g>
<path d="M244.14,488.15C245.68,488.53 247.6,488.53 249.91,491.61C252.22,494.68 255.48,501.41 257.98,506.6C260.48,511.79 263.17,517.75 264.9,522.75C266.63,527.75 267.86,532.75 268.36,536.59C268.86,540.44 268.21,543.43 267.9,545.82C267.59,548.2 267.52,548.89 266.52,550.89C265.52,552.89 263.83,555.51 261.9,557.81C259.98,560.12 257.29,562.7 254.98,564.73C252.68,566.77 250.25,568.89 248.06,570.04C245.87,571.19 243.64,571.77 241.84,571.65C240.03,571.54 238.49,570.89 237.22,569.35C235.95,567.81 234.99,565.39 234.22,562.43C233.45,559.47 233.26,555.12 232.61,551.58C231.95,548.05 230.99,545.63 230.3,541.2C229.61,536.78 228.46,530.44 228.46,525.06C228.46,519.67 229.03,513.91 230.3,508.91C231.57,503.91 234.34,498.34 236.07,495.07C237.8,491.8 239.34,490.45 240.68,489.3C242.03,488.15 242.6,487.76 244.14,488.15Z" fill="none" stroke="rgb(208,41,28)" stroke-opacity="0.55" stroke-width="0.9"/>
<path d="M221.07,564.27C221.46,560.43 221.65,553.12 223.38,548.12C225.11,543.13 228.19,538.13 231.45,534.28C234.72,530.44 238.37,527.56 242.99,525.06C247.6,522.56 253.37,520.33 259.14,519.29C264.9,518.25 271.82,518.64 277.59,518.83C283.36,519.02 288.36,519.4 293.74,520.44C299.12,521.48 304.89,523.13 309.89,525.06C314.88,526.98 319.88,529.29 323.73,531.98C327.57,534.67 330.84,537.94 332.95,541.2C335.07,544.47 336.22,548.12 336.41,551.58C336.61,555.04 335.84,558.7 334.11,561.97C332.38,565.23 329.3,568.31 326.03,571.19C322.77,574.08 318.34,576.77 314.5,579.27C310.65,581.77 306.73,584 302.97,586.19C299.2,588.38 296.12,590.42 291.89,592.42C287.66,594.41 282.09,596.45 277.59,598.18C273.09,599.91 268.75,601.8 264.9,602.8C261.06,603.8 258.37,604.76 254.52,604.18C250.68,603.6 245.87,601.87 241.84,599.34C237.8,596.8 233.38,592.8 230.3,588.96C227.23,585.11 224.92,579.23 223.38,576.27C221.84,573.31 221.46,573.19 221.07,571.19C220.69,569.19 220.69,568.12 221.07,564.27Z" fill="none" stroke="rgb(46,111,175)" stroke-opacity="0.4675" stroke-width="0.9"/>
<path d="M284.51,509.6C289.89,509.52 297.2,509.79 302.97,511.22C308.73,512.64 314.11,515.25 319.11,518.14C324.11,521.02 329.3,524.67 332.95,528.52C336.61,532.36 339.41,536.98 341.03,541.2C342.64,545.43 343.03,549.66 342.64,553.89C342.26,558.12 341.1,562.73 338.72,566.58C336.34,570.42 332.76,574.08 328.34,576.96C323.92,579.84 318.27,582.53 312.19,583.88C306.12,585.23 297.66,585.49 291.89,585.03C286.13,584.57 282.09,582.65 277.59,581.11C273.09,579.57 268.82,578.23 264.9,575.81C260.98,573.38 257.14,569.65 254.06,566.58C250.99,563.5 248.29,559.97 246.45,557.35C244.6,554.74 243.68,553.58 242.99,550.89C242.3,548.2 241.34,544.93 242.3,541.2C243.26,537.47 245.95,532.36 248.76,528.52C251.56,524.67 255.48,520.94 259.14,518.14C262.79,515.33 266.44,513.1 270.67,511.68C274.9,510.25 279.13,509.68 284.51,509.6Z" fill="none" stroke="rgb(53,159,62)" stroke-opacity="0.4675" stroke-width="0.9"/>
</g>
<g clip-path="url(#cp32)">
<g><path d="M486.96,488.15C491.38,488.26 495.41,489.88 498.49,491.61C501.56,493.34 503.49,495.84 505.41,498.53C507.33,501.22 508.87,504.49 510.02,507.76C511.18,511.02 512.14,514.87 512.33,518.14C512.52,521.4 512.14,524.1 511.18,527.36C510.22,530.63 508.49,534.67 506.56,537.74C504.64,540.82 501.95,543.63 499.64,545.82C497.34,548.01 495.11,548.78 492.72,550.89C490.34,553.01 489.26,555.78 485.34,558.51C481.42,561.23 474.58,565.16 469.19,567.27C463.81,569.39 458.43,570.92 453.04,571.19C447.66,571.46 441.7,570.42 436.9,568.89C432.09,567.35 427.4,564.85 424.21,561.97C421.02,559.08 418.6,555.81 417.75,551.58C416.91,547.36 417.87,540.82 419.13,536.59C420.4,532.36 423.17,529.48 425.36,526.21C427.55,522.94 429.98,519.67 432.28,516.98C434.59,514.29 436.44,512.37 439.2,510.06C441.97,507.76 445.36,505.45 448.89,503.14C452.43,500.84 456.58,498.26 460.43,496.22C464.27,494.18 467.54,492.26 471.96,490.92C476.38,489.57 482.53,488.03 486.96,488.15Z" fill="rgb(247,182,182)"/>
<path d="M477.73,504.76C482.15,503.99 484.46,505.33 486.96,506.6C489.45,507.87 491.38,510.06 492.72,512.37C494.07,514.68 495.03,517.56 495.03,520.44C495.03,523.33 494.26,526.67 492.72,529.67C491.18,532.67 488.57,535.74 485.8,538.44C483.03,541.13 480.03,543.36 476.11,545.82C472.19,548.28 466.89,551.58 462.27,553.2C457.66,554.81 452.58,555.78 448.43,555.51C444.28,555.24 439.74,553.58 437.36,551.58C434.98,549.59 434.4,546.59 434.13,543.51C433.86,540.44 434.9,536.01 435.74,533.13C436.59,530.25 437.67,528.32 439.2,526.21C440.74,524.1 443.36,521.79 444.97,520.44C446.59,519.1 446.32,519.67 448.89,518.14C451.47,516.6 455.62,513.45 460.43,511.22C465.23,508.99 473.31,505.53 477.73,504.76Z" fill="rgb(208,41,28)"/>
</g>
<g opacity="0.85"><path d="M385.22,580.42C385.03,576.11 384.84,567.73 386.15,561.97C387.45,556.2 389.99,550.82 393.07,545.82C396.14,540.82 400.37,536.01 404.6,531.98C408.83,527.94 413.83,524.1 418.44,521.6C423.06,519.1 427.29,517.56 432.28,516.98C437.28,516.41 443.05,517.17 448.43,518.14C453.81,519.1 459.58,520.44 464.58,522.75C469.58,525.06 474.58,528.9 478.42,531.98C482.26,535.05 485.42,537.74 487.65,541.2C489.88,544.66 491.22,548.89 491.8,552.74C492.38,556.58 492.38,560.81 491.11,564.27C489.84,567.73 487.45,570.5 484.19,573.5C480.92,576.5 475.54,579.77 471.5,582.27C467.46,584.76 463.73,586.61 459.97,588.49C456.2,590.38 452.35,592.11 448.89,593.57C445.43,595.03 442.16,596.18 439.2,597.26C436.24,598.34 434.4,599.18 431.13,600.03C427.86,600.87 423.25,602.14 419.6,602.33C415.94,602.53 412.68,601.87 409.22,601.18C405.76,600.49 401.72,599.53 398.84,598.18C395.95,596.84 393.84,594.84 391.91,593.11C389.99,591.38 388.42,589.92 387.3,587.8C386.19,585.69 385.42,584.73 385.22,580.42Z" fill="rgb(183,209,233)"/>
<path d="M409.22,541.2C412.68,538.9 419.6,535.44 425.36,534.28C431.13,533.13 438.05,533.13 443.82,534.28C449.58,535.44 455.74,538.9 459.97,541.2C464.19,543.51 467.35,545.43 469.19,548.12C471.04,550.82 471.23,554.28 471.04,557.35C470.85,560.43 469.88,563.89 468.04,566.58C466.19,569.27 463.16,571.77 459.97,573.5C456.77,575.23 452.35,576 448.89,576.96C445.43,577.92 442.74,578.42 439.2,579.27C435.67,580.11 431.51,581.27 427.67,582.03C423.83,582.8 419.98,583.84 416.14,583.88C412.29,583.92 407.29,584 404.6,582.27C401.91,580.54 400.57,577.65 399.99,573.5C399.41,569.35 400.37,561.58 401.14,557.35C401.91,553.12 403.26,550.82 404.6,548.12C405.95,545.43 405.76,543.51 409.22,541.2Z" fill="rgb(46,111,175)"/>
</g>
<g opacity="0.85"><path d="M420.06,509.83C422.75,510.1 426.94,512.33 428.82,514.68C430.71,517.02 430.98,520.25 431.36,523.9C431.75,527.56 431.67,532.55 431.13,536.59C430.59,540.63 429.28,544.28 428.13,548.12C426.98,551.97 426.21,555.89 424.21,559.66C422.21,563.43 419.4,567.27 416.14,570.73C412.87,574.19 408.45,577.92 404.6,580.42C400.76,582.92 396.07,585.34 393.07,585.73C390.07,586.11 388.26,584.76 386.61,582.73C384.96,580.69 383.8,577.84 383.15,573.5C382.5,569.15 382.19,561.66 382.69,556.66C383.19,551.66 384.42,547.55 386.15,543.51C387.88,539.47 389.99,536.28 393.07,532.44C396.14,528.59 401.33,523.67 404.6,520.44C407.87,517.21 410.1,514.83 412.68,513.06C415.25,511.29 417.37,509.56 420.06,509.83Z" fill="rgb(198,241,183)"/>
<path d="M416.14,524.36C417.98,524.48 419.79,524.17 420.75,526.21C421.71,528.25 422.1,532.94 421.9,536.59C421.71,540.24 420.75,544.66 419.6,548.12C418.44,551.58 416.91,554.39 414.98,557.35C413.06,560.31 410.56,563.89 408.06,565.89C405.56,567.89 402.3,568.85 399.99,569.35C397.68,569.85 395.49,570.12 394.22,568.89C392.95,567.66 392.65,565.04 392.38,561.97C392.11,558.89 392.03,554.28 392.61,550.43C393.18,546.59 394.22,542.17 395.84,538.9C397.45,535.63 399.99,533.05 402.3,530.82C404.6,528.59 407.37,526.59 409.68,525.52C411.98,524.44 414.29,524.25 416.14,524.36Z" fill="rgb(53,159,62)"/>
</g>
<g opacity="0.85"><path d="M421.99,525.27C422.14,525.33 422.22,525.54 422.24,525.89C422.26,526.24 422.21,526.73 422.11,527.36C422,527.98 421.83,528.75 421.6,529.64C421.37,530.53 421.08,531.56 420.73,532.69C420.39,533.81 419.98,535.07 419.52,536.41C419.07,537.76 418.56,539.21 418.01,540.73C417.45,542.25 416.85,543.88 416.21,545.54C415.58,547.2 414.9,548.95 414.19,550.71C413.49,552.48 412.75,554.3 411.99,556.13C411.24,557.95 410.45,559.81 409.67,561.65C408.88,563.48 408.07,565.34 407.27,567.14C406.47,568.94 405.66,570.74 404.87,572.47C404.08,574.19 403.28,575.89 402.52,577.5C401.75,579.1 400.99,580.66 400.27,582.11C399.55,583.56 398.85,584.93 398.19,586.19C397.53,587.44 396.9,588.61 396.32,589.63C395.75,590.66 395.2,591.58 394.72,592.36C394.23,593.14 393.79,593.8 393.41,594.3C393.03,594.81 392.71,595.19 392.44,595.41C392.18,595.64 391.97,595.72 391.82,595.66C391.68,595.6 391.6,595.39 391.58,595.04C391.56,594.7 391.6,594.2 391.71,593.57C391.82,592.95 391.99,592.18 392.22,591.29C392.45,590.4 392.74,589.37 393.08,588.25C393.43,587.12 393.84,585.86 394.29,584.52C394.75,583.18 395.26,581.72 395.81,580.2C396.36,578.68 396.97,577.06 397.6,575.39C398.24,573.73 398.92,571.98 399.63,570.22C400.33,568.45 401.07,566.63 401.83,564.81C402.58,562.98 403.37,561.12 404.15,559.28C404.94,557.45 405.75,555.6 406.55,553.79C407.35,551.99 408.16,550.19 408.95,548.47C409.74,546.74 410.54,545.04 411.3,543.43C412.07,541.83 412.82,540.27 413.55,538.82C414.27,537.37 414.97,536 415.63,534.74C416.28,533.49 416.91,532.33 417.49,531.3C418.07,530.27 418.61,529.35 419.1,528.57C419.58,527.79 420.02,527.14 420.4,526.63C420.78,526.12 421.11,525.74 421.38,525.52C421.64,525.29 421.85,525.21 421.99,525.27Z" fill="rgb(158,158,158)"/>
<path d="M416.29,539.74C416.37,539.77 416.42,539.9 416.42,540.11C416.43,540.32 416.39,540.61 416.32,540.99C416.25,541.36 416.14,541.82 415.99,542.35C415.84,542.89 415.65,543.5 415.43,544.18C415.21,544.85 414.95,545.61 414.66,546.41C414.37,547.21 414.05,548.08 413.7,548.99C413.36,549.91 412.98,550.88 412.58,551.87C412.18,552.87 411.75,553.91 411.31,554.97C410.87,556.03 410.41,557.12 409.94,558.21C409.47,559.3 408.98,560.42 408.49,561.52C408,562.61 407.5,563.72 407,564.8C406.51,565.88 406,566.96 405.51,567.99C405.02,569.03 404.53,570.04 404.06,571.01C403.58,571.97 403.12,572.9 402.67,573.77C402.23,574.64 401.8,575.46 401.39,576.21C400.99,576.96 400.6,577.66 400.25,578.27C399.89,578.89 399.56,579.44 399.27,579.91C398.97,580.37 398.7,580.77 398.47,581.07C398.24,581.38 398.05,581.6 397.89,581.74C397.73,581.87 397.61,581.92 397.53,581.89C397.44,581.85 397.4,581.72 397.39,581.52C397.39,581.31 397.42,581.01 397.5,580.64C397.57,580.26 397.68,579.8 397.83,579.27C397.98,578.74 398.17,578.12 398.39,577.45C398.61,576.77 398.87,576.02 399.16,575.22C399.44,574.41 399.77,573.54 400.12,572.63C400.46,571.72 400.84,570.75 401.24,569.75C401.64,568.76 402.07,567.71 402.51,566.65C402.95,565.6 403.41,564.5 403.88,563.41C404.35,562.32 404.84,561.21 405.33,560.11C405.82,559.01 406.32,557.9 406.82,556.82C407.31,555.74 407.81,554.66 408.31,553.63C408.8,552.6 409.29,551.58 409.76,550.62C410.23,549.66 410.7,548.72 411.15,547.86C411.59,546.99 412.02,546.16 412.43,545.41C412.83,544.66 413.22,543.97 413.57,543.35C413.92,542.73 414.26,542.18 414.55,541.72C414.85,541.25 415.11,540.86 415.34,540.55C415.57,540.25 415.77,540.02 415.93,539.89C416.09,539.75 416.21,539.7 416.29,539.74Z" fill="rgb(28,28,28)"/>
</g>
<path d="M486.96,488.15C491.38,488.26 495.41,489.88 498.49,491.61C501.56,493.34 503.49,495.84 505.41,498.53C507.33,501.22 508.87,504.49 510.02,507.76C511.18,511.02 512.14,514.87 512.33,518.14C512.52,521.4 512.14,524.1 511.18,527.36C510.22,530.63 508.49,534.67 506.56,537.74C504.64,540.82 501.95,543.63 499.64,545.82C497.34,548.01 495.11,548.78 492.72,550.89C490.34,553.01 489.26,555.78 485.34,558.51C481.42,561.23 474.58,565.16 469.19,567.27C463.81,569.39 458.43,570.92 453.04,571.19C447.66,571.46 441.7,570.42 436.9,568.89C432.09,567.35 427.4,564.85 424.21,561.97C421.02,559.08 418.6,555.81 417.75,551.58C416.91,547.36 417.87,540.82 419.13,536.59C420.4,532.36 423.17,529.48 425.36,526.21C427.55,522.94 429.98,519.67 432.28,516.98C434.59,514.29 436.44,512.37 439.2,510.06C441.97,507.76 445.36,505.45 448.89,503.14C452.43,500.84 456.58,498.26 460.43,496.22C464.27,494.18 467.54,492.26 471.96,490.92C476.38,489.57 482.53,488.03 486.96,488.15Z" fill="none" stroke="rgb(208,41,28)" stroke-opacity="0.55" stroke-width="0.9"/>
<path d="M385.22,580.42C385.03,576.11 384.84,567.73 386.15,561.97C387.45,556.2 389.99,550.82 393.07,545.82C396.14,540.82 400.37,536.01 404.6,531.98C408.83,527.94 413.83,524.1 418.44,521.6C423.06,519.1 427.29,517.56 432.28,516.98C437.28,516.41 443.05,517.17 448.43,518.14C453.81,519.1 459.58,520.44 464.58,522.75C469.58,525.06 474.58,528.9 478.42,531.98C482.26,535.05 485.42,537.74 487.65,541.2C489.88,544.66 491.22,548.89 491.8,552.74C492.38,556.58 492.38,560.81 491.11,564.27C489.84,567.73 487.45,570.5 484.19,573.5C480.92,576.5 475.54,579.77 471.5,582.27C467.46,584.76 463.73,586.61 459.97,588.49C456.2,590.38 452.35,592.11 448.89,593.57C445.43,595.03 442.16,596.18 439.2,597.26C436.24,598.34 434.4,599.18 431.13,600.03C427.86,600.87 423.25,602.14 419.6,602.33C415.94,602.53 412.68,601.87 409.22,601.18C405.76,600.49 401.72,599.53 398.84,598.18C395.95,596.84 393.84,594.84 391.91,593.11C389.99,591.38 388.42,589.92 387.3,587.8C386.19,585.69 385.42,584.73 385.22,580.42Z" fill="none" stroke="rgb(46,111,175)" stroke-opacity="0.4675" stroke-width="0.9"/>
<path d="M420.06,509.83C422.75,510.1 426.94,512.33 428.82,514.68C430.71,517.02 430.98,520.25 431.36,523.9C431.75,527.56 431.67,532.55 431.13,536.59C430.59,540.63 429.28,544.28 428.13,548.12C426.98,551.97 426.21,555.89 424.21,559.66C422.21,563.43 419.4,567.27 416.14,570.73C412.87,574.19 408.45,577.92 404.6,580.42C400.76,582.92 396.07,585.34 393.07,585.73C390.07,586.11 388.26,584.76 386.61,582.73C384.96,580.69 383.8,577.84 383.15,573.5C382.5,569.15 382.19,561.66 382.69,556.66C383.19,551.66 384.42,547.55 386.15,543.51C387.88,539.47 389.99,536.28 393.07,532.44C396.14,528.59 401.33,523.67 404.6,520.44C407.87,517.21 410.1,514.83 412.68,513.06C415.25,511.29 417.37,509.56 420.06,509.83Z" fill="none" stroke="rgb(53,159,62)" stroke-opacity="0.4675" stroke-width="0.9"/>
<path d="M421.99,525.27C422.14,525.33 422.22,525.54 422.24,525.89C422.26,526.24 422.21,526.73 422.11,527.36C422,527.98 421.83,528.75 421.6,529.64C421.37,530.53 421.08,531.56 420.73,532.69C420.39,533.81 419.98,535.07 419.52,536.41C419.07,537.76 418.56,539.21 418.01,540.73C417.45,542.25 416.85,543.88 416.21,545.54C415.58,547.2 414.9,548.95 414.19,550.71C413.49,552.48 412.75,554.3 411.99,556.13C411.24,557.95 410.45,559.81 409.67,561.65C408.88,563.48 408.07,565.34 407.27,567.14C406.47,568.94 405.66,570.74 404.87,572.47C404.08,574.19 403.28,575.89 402.52,577.5C401.75,579.1 400.99,580.66 400.27,582.11C399.55,583.56 398.85,584.93 398.19,586.19C397.53,587.44 396.9,588.61 396.32,589.63C395.75,590.66 395.2,591.58 394.72,592.36C394.23,593.14 393.79,593.8 393.41,594.3C393.03,594.81 392.71,595.19 392.44,595.41C392.18,595.64 391.97,595.72 391.82,595.66C391.68,595.6 391.6,595.39 391.58,595.04C391.56,594.7 391.6,594.2 391.71,593.57C391.82,592.95 391.99,592.18 392.22,591.29C392.45,590.4 392.74,589.37 393.08,588.25C393.43,587.12 393.84,585.86 394.29,584.52C394.75,583.18 395.26,581.72 395.81,580.2C396.36,578.68 396.97,577.06 397.6,575.39C398.24,573.73 398.92,571.98 399.63,570.22C400.33,568.45 401.07,566.63 401.83,564.81C402.58,562.98 403.37,561.12 404.15,559.28C404.94,557.45 405.75,555.6 406.55,553.79C407.35,551.99 408.16,550.19 408.95,548.47C409.74,546.74 410.54,545.04 411.3,543.43C412.07,541.83 412.82,540.27 413.55,538.82C414.27,537.37 414.97,536 415.63,534.74C416.28,533.49 416.91,532.33 417.49,531.3C418.07,530.27 418.61,529.35 419.1,528.57C419.58,527.79 420.02,527.14 420.4,526.63C420.78,526.12 421.11,525.74 421.38,525.52C421.64,525.29 421.85,525.21 421.99,525.27Z" fill="none" stroke="rgb(28,28,28)" stroke-opacity="0.4675" stroke-width="0.9"/>
</g>
<g clip-path="url(#cp00)" fill="none" stroke-width="0.95">
<path d="M56.5,156.5 L57,156.49 L57.5,156.49 L58,156.48 L58.5,156.46 L59,156.44 L59.5,156.41 L60,156.37 L60.5,156.33 L61,156.28 L61.5,156.22 L62,156.15 L62.5,156.08 L63,156 L63.5,155.91 L64,155.83 L64.5,155.74 L65,155.64 L65.5,155.54 L66,155.44 L66.5,155.34 L67,155.23 L67.5,155.12 L68,155.01 L68.5,154.89 L69,154.77 L69.5,154.64 L70,154.52 L70.5,154.38 L71,154.24 L71.5,154.1 L72,153.95 L72.5,153.8 L73,153.63 L73.5,153.47 L74,153.29 L74.5,153.1 L75,152.91 L75.5,152.7 L76,152.48 L76.5,152.25 L77,152 L77.5,151.74 L78,151.45 L78.5,151.14 L79,150.81 L79.5,150.44 L80,150.05 L80.5,149.63 L81,149.18 L81.5,148.71 L82,148.21 L82.5,147.68 L83,147.13 L83.5,146.56 L84,145.97 L84.5,145.36 L85,144.72 L85.5,144.07 L86,143.39 L86.5,142.69 L87,141.96 L87.5,141.2 L88,140.4 L88.5,139.57 L89,138.71 L89.5,137.8 L90,136.85 L90.5,135.86 L91,134.82 L91.5,133.73 L92,132.59 L92.5,131.38 L93,130.11 L93.5,128.76 L94,127.34 L94.5,125.85 L95,124.29 L95.5,122.65 L96,120.95 L96.5,119.19 L97,117.38 L97.5,115.52 L98,113.6 L98.5,111.64 L99,109.63 L99.5,107.57 L100,105.46 L100.5,103.29 L101,101.05 L101.5,98.75 L102,96.37 L102.5,93.9 L103,91.32 L103.5,88.61 L104,85.76 L104.5,82.76 L105,79.62 L105.5,76.36 L106,73.03 L106.5,69.67 L107,66.34 L107.5,63.11 L108,60.02 L108.5,57.11 L109,54.38 L109.5,51.84 L110,49.47 L110.5,47.25 L111,45.16 L111.5,43.17 L112,41.26 L112.5,39.43 L113,37.66 L113.5,35.95 L114,34.3 L114.5,32.7 L115,31.16 L115.5,29.67 L116,28.23 L116.5,26.84 L117,25.51 L117.5,24.24 L118,23.03 L118.5,21.91 L119,20.87 L119.5,19.92 L120,19.07 L120.5,18.32 L121,17.66 L121.5,17.1 L122,16.63 L122.5,16.24 L123,15.94 L123.5,15.73 L124,15.61 L124.5,15.59 L125,15.67 L125.5,15.86 L126,16.16 L126.5,16.57 L127,17.08 L127.5,17.7 L128,18.42 L128.5,19.24 L129,20.16 L129.5,21.16 L130,22.25 L130.5,23.41 L131,24.63 L131.5,25.91 L132,27.23 L132.5,28.58 L133,29.98 L133.5,31.41 L134,32.88 L134.5,34.38 L135,35.93 L135.5,37.51 L136,39.13 L136.5,40.8 L137,42.52 L137.5,44.29 L138,46.12 L138.5,48.02 L139,49.99 L139.5,52.07 L140,54.25 L140.5,56.56 L141,59.01 L141.5,61.58 L142,64.28 L142.5,67.08 L143,69.93 L143.5,72.78 L144,75.58 L144.5,78.28 L145,80.84 L145.5,83.24 L146,85.48 L146.5,87.57 L147,89.55 L147.5,91.45 L148,93.31 L148.5,95.14 L149,96.97 L149.5,98.81 L150,100.66 L150.5,102.51 L151,104.37 L151.5,106.21 L152,108.04 L152.5,109.85 L153,111.62 L153.5,113.36 L154,115.07 L154.5,116.74 L155,118.37 L155.5,119.97 L156,121.53 L156.5,123.04 L157,124.52 L157.5,125.95 L158,127.34 L158.5,128.69 L159,129.99 L159.5,131.26 L160,132.48 L160.5,133.67 L161,134.83 L161.5,135.94 L162,137.03 L162.5,138.07 L163,139.08 L163.5,140.05 L164,140.98 L164.5,141.86 L165,142.7 L165.5,143.51 L166,144.27 L166.5,145 L167,145.7 L167.5,146.36 L168,147 L168.5,147.62 L169,148.21 L169.5,148.77 L170,149.31 L170.5,149.82 L171,150.3 L171.5,150.75 L172,151.17 L172.5,151.55 L173,151.91 L173.5,152.23 L174,152.52 L174.5,152.79 L175,153.03 L175.5,153.25 L176,153.45 L176.5,153.64 L177,153.81 L177.5,153.97 L178,154.13 L178.5,154.27 L179,154.41 L179.5,154.54 L180,154.66 L180.5,154.78 L181,154.88 L181.5,154.99 L182,155.08 L182.5,155.18 L183,155.27 L183.5,155.35 L184,155.43 L184.5,155.51 L185,155.58 L185.5,155.66 L186,155.73 L186.5,155.8 L187,155.87 L187.5,155.93 L188,156 L188.5,156.05 L189,156.11 L189.5,156.17 L190,156.22 L190.5,156.26 L191,156.3 L191.5,156.34 L192,156.38 L192.5,156.4 L193,156.43 L193.5,156.45 L194,156.46 L194.5,156.48 L195,156.48 L195.5,156.49 L196,156.49 L196.5,156.5 L197,156.5 L197.5,156.5 L198,156.5 L198.5,156.5 L199,156.5 L199.5,156.5 L200,156.5 L200.5,156.5 L201,156.5 L201.5,156.5 L202,156.5 L202.5,156.5 L203,156.5 L203.5,156.5 L204,156.5 L204.5,156.5 L205,156.5 L205.5,156.5 L206,156.5 L206.5,156.5 L207,156.5 L207.5,156.5 L208,156.5 L208.5,156.5 L209,156.5 L209.5,156.5 L210,156.5 L210.5,156.5 L211,156.5 L211.5,156.5 L212,156.5 L212.5,156.5 L213,156.5 L213.5,156.5" stroke="rgb(18,162,44)"/>
<path d="M56.5,156.5 L57,156.5 L57.5,156.5 L58,156.5 L58.5,156.5 L59,156.5 L59.5,156.5 L60,156.5 L60.5,156.5 L61,156.5 L61.5,156.5 L62,156.5 L62.5,156.5 L63,156.5 L63.5,156.5 L64,156.5 L64.5,156.5 L65,156.5 L65.5,156.49 L66,156.49 L66.5,156.48 L67,156.47 L67.5,156.45 L68,156.43 L68.5,156.4 L69,156.35 L69.5,156.3 L70,156.23 L70.5,156.16 L71,156.07 L71.5,155.97 L72,155.85 L72.5,155.73 L73,155.6 L73.5,155.45 L74,155.3 L74.5,155.14 L75,154.96 L75.5,154.79 L76,154.6 L76.5,154.4 L77,154.2 L77.5,154 L78,153.78 L78.5,153.55 L79,153.32 L79.5,153.07 L80,152.8 L80.5,152.52 L81,152.21 L81.5,151.88 L82,151.52 L82.5,151.13 L83,150.71 L83.5,150.27 L84,149.8 L84.5,149.3 L85,148.78 L85.5,148.24 L86,147.69 L86.5,147.12 L87,146.53 L87.5,145.94 L88,145.33 L88.5,144.72 L89,144.09 L89.5,143.45 L90,142.8 L90.5,142.14 L91,141.46 L91.5,140.77 L92,140.05 L92.5,139.32 L93,138.57 L93.5,137.79 L94,136.99 L94.5,136.17 L95,135.33 L95.5,134.46 L96,133.56 L96.5,132.63 L97,131.67 L97.5,130.68 L98,129.65 L98.5,128.58 L99,127.48 L99.5,126.33 L100,125.15 L100.5,123.94 L101,122.69 L101.5,121.41 L102,120.11 L102.5,118.79 L103,117.45 L103.5,116.09 L104,114.72 L104.5,113.34 L105,111.94 L105.5,110.52 L106,109.09 L106.5,107.64 L107,106.16 L107.5,104.65 L108,103.12 L108.5,101.56 L109,99.96 L109.5,98.32 L110,96.65 L110.5,94.93 L111,93.18 L111.5,91.39 L112,89.57 L112.5,87.73 L113,85.87 L113.5,84.02 L114,82.17 L114.5,80.33 L115,78.5 L115.5,76.68 L116,74.87 L116.5,73.06 L117,71.23 L117.5,69.39 L118,67.51 L118.5,65.6 L119,63.66 L119.5,61.69 L120,59.71 L120.5,57.71 L121,55.72 L121.5,53.75 L122,51.81 L122.5,49.89 L123,48 L123.5,46.15 L124,44.31 L124.5,42.49 L125,40.67 L125.5,38.85 L126,37.01 L126.5,35.15 L127,33.28 L127.5,31.42 L128,29.57 L128.5,27.77 L129,26.06 L129.5,24.47 L130,23.01 L130.5,21.72 L131,20.6 L131.5,19.64 L132,18.84 L132.5,18.17 L133,17.6 L133.5,17.13 L134,16.73 L134.5,16.4 L135,16.12 L135.5,15.9 L136,15.74 L136.5,15.63 L137,15.59 L137.5,15.62 L138,15.72 L138.5,15.9 L139,16.15 L139.5,16.49 L140,16.89 L140.5,17.37 L141,17.91 L141.5,18.53 L142,19.2 L142.5,19.94 L143,20.74 L143.5,21.59 L144,22.48 L144.5,23.42 L145,24.39 L145.5,25.39 L146,26.41 L146.5,27.47 L147,28.55 L147.5,29.67 L148,30.8 L148.5,31.97 L149,33.16 L149.5,34.39 L150,35.64 L150.5,36.93 L151,38.26 L151.5,39.64 L152,41.08 L152.5,42.58 L153,44.15 L153.5,45.81 L154,47.57 L154.5,49.44 L155,51.41 L155.5,53.5 L156,55.7 L156.5,58.02 L157,60.43 L157.5,62.94 L158,65.53 L158.5,68.16 L159,70.82 L159.5,73.48 L160,76.1 L160.5,78.66 L161,81.15 L161.5,83.55 L162,85.87 L162.5,88.11 L163,90.27 L163.5,92.38 L164,94.44 L164.5,96.46 L165,98.44 L165.5,100.4 L166,102.33 L166.5,104.22 L167,106.09 L167.5,107.93 L168,109.72 L168.5,111.49 L169,113.22 L169.5,114.91 L170,116.56 L170.5,118.18 L171,119.77 L171.5,121.32 L172,122.84 L172.5,124.32 L173,125.77 L173.5,127.18 L174,128.56 L174.5,129.9 L175,131.21 L175.5,132.49 L176,133.74 L176.5,134.96 L177,136.15 L177.5,137.3 L178,138.42 L178.5,139.5 L179,140.53 L179.5,141.53 L180,142.48 L180.5,143.38 L181,144.25 L181.5,145.07 L182,145.86 L182.5,146.61 L183,147.33 L183.5,148.02 L184,148.67 L184.5,149.29 L185,149.88 L185.5,150.42 L186,150.93 L186.5,151.4 L187,151.83 L187.5,152.22 L188,152.57 L188.5,152.9 L189,153.2 L189.5,153.48 L190,153.74 L190.5,153.98 L191,154.22 L191.5,154.44 L192,154.65 L192.5,154.86 L193,155.05 L193.5,155.23 L194,155.4 L194.5,155.56 L195,155.71 L195.5,155.84 L196,155.97 L196.5,156.07 L197,156.17 L197.5,156.25 L198,156.31 L198.5,156.37 L199,156.41 L199.5,156.44 L200,156.46 L200.5,156.48 L201,156.49 L201.5,156.49 L202,156.5 L202.5,156.5 L203,156.5 L203.5,156.5 L204,156.5 L204.5,156.5 L205,156.5 L205.5,156.5 L206,156.5 L206.5,156.5 L207,156.5 L207.5,156.5 L208,156.5 L208.5,156.5 L209,156.5 L209.5,156.5 L210,156.5 L210.5,156.5 L211,156.5 L211.5,156.5 L212,156.5 L212.5,156.5 L213,156.5 L213.5,156.5" stroke="rgb(30,115,178)"/>
<path d="M56.5,156.5 L57,156.5 L57.5,156.5 L58,156.5 L58.5,156.5 L59,156.5 L59.5,156.5 L60,156.5 L60.5,156.5 L61,156.5 L61.5,156.5 L62,156.5 L62.5,156.5 L63,156.5 L63.5,156.5 L64,156.5 L64.5,156.5 L65,156.5 L65.5,156.5 L66,156.5 L66.5,156.5 L67,156.5 L67.5,156.5 L68,156.5 L68.5,156.5 L69,156.5 L69.5,156.5 L70,156.5 L70.5,156.5 L71,156.5 L71.5,156.5 L72,156.5 L72.5,156.5 L73,156.5 L73.5,156.5 L74,156.5 L74.5,156.5 L75,156.5 L75.5,156.5 L76,156.5 L76.5,156.5 L77,156.5 L77.5,156.5 L78,156.5 L78.5,156.5 L79,156.5 L79.5,156.5 L80,156.5 L80.5,156.49 L81,156.48 L81.5,156.47 L82,156.45 L82.5,156.42 L83,156.38 L83.5,156.33 L84,156.26 L84.5,156.18 L85,156.08 L85.5,155.96 L86,155.82 L86.5,155.67 L87,155.5 L87.5,155.31 L88,155.11 L88.5,154.89 L89,154.66 L89.5,154.4 L90,154.11 L90.5,153.8 L91,153.46 L91.5,153.07 L92,152.64 L92.5,152.17 L93,151.65 L93.5,151.08 L94,150.48 L94.5,149.84 L95,149.16 L95.5,148.45 L96,147.72 L96.5,146.96 L97,146.19 L97.5,145.4 L98,144.6 L98.5,143.78 L99,142.94 L99.5,142.08 L100,141.2 L100.5,140.29 L101,139.36 L101.5,138.41 L102,137.42 L102.5,136.41 L103,135.37 L103.5,134.31 L104,133.21 L104.5,132.09 L105,130.94 L105.5,129.76 L106,128.55 L106.5,127.31 L107,126.03 L107.5,124.72 L108,123.37 L108.5,121.98 L109,120.56 L109.5,119.1 L110,117.59 L110.5,116.05 L111,114.46 L111.5,112.83 L112,111.15 L112.5,109.42 L113,107.64 L113.5,105.8 L114,103.9 L114.5,101.94 L115,99.92 L115.5,97.82 L116,95.64 L116.5,93.38 L117,91.01 L117.5,88.54 L118,85.96 L118.5,83.26 L119,80.43 L119.5,77.5 L120,74.47 L120.5,71.37 L121,68.24 L121.5,65.11 L122,62.01 L122.5,58.99 L123,56.05 L123.5,53.23 L124,50.52 L124.5,47.94 L125,45.48 L125.5,43.13 L126,40.87 L126.5,38.7 L127,36.6 L127.5,34.55 L128,32.55 L128.5,30.6 L129,28.7 L129.5,26.88 L130,25.15 L130.5,23.54 L131,22.08 L131.5,20.77 L132,19.64 L132.5,18.68 L133,17.88 L133.5,17.23 L134,16.71 L134.5,16.3 L135,16 L135.5,15.78 L136,15.65 L136.5,15.59 L137,15.61 L137.5,15.7 L138,15.87 L138.5,16.11 L139,16.42 L139.5,16.83 L140,17.32 L140.5,17.91 L141,18.61 L141.5,19.42 L142,20.34 L142.5,21.35 L143,22.46 L143.5,23.65 L144,24.91 L144.5,26.23 L145,27.6 L145.5,29.03 L146,30.51 L146.5,32.06 L147,33.68 L147.5,35.39 L148,37.22 L148.5,39.19 L149,41.36 L149.5,43.75 L150,46.42 L150.5,49.38 L151,52.64 L151.5,56.17 L152,59.93 L152.5,63.82 L153,67.74 L153.5,71.58 L154,75.26 L154.5,78.68 L155,81.83 L155.5,84.69 L156,87.28 L156.5,89.66 L157,91.87 L157.5,93.97 L158,95.98 L158.5,97.94 L159,99.87 L159.5,101.78 L160,103.67 L160.5,105.53 L161,107.37 L161.5,109.18 L162,110.95 L162.5,112.7 L163,114.4 L163.5,116.08 L164,117.72 L164.5,119.32 L165,120.89 L165.5,122.42 L166,123.91 L166.5,125.36 L167,126.77 L167.5,128.13 L168,129.46 L168.5,130.74 L169,131.98 L169.5,133.18 L170,134.35 L170.5,135.48 L171,136.57 L171.5,137.64 L172,138.66 L172.5,139.64 L173,140.59 L173.5,141.49 L174,142.35 L174.5,143.16 L175,143.94 L175.5,144.68 L176,145.38 L176.5,146.04 L177,146.68 L177.5,147.29 L178,147.88 L178.5,148.44 L179,148.98 L179.5,149.49 L180,149.98 L180.5,150.45 L181,150.89 L181.5,151.3 L182,151.7 L182.5,152.07 L183,152.42 L183.5,152.75 L184,153.06 L184.5,153.36 L185,153.64 L185.5,153.92 L186,154.18 L186.5,154.43 L187,154.67 L187.5,154.9 L188,155.12 L188.5,155.33 L189,155.52 L189.5,155.69 L190,155.84 L190.5,155.98 L191,156.1 L191.5,156.2 L192,156.29 L192.5,156.35 L193,156.4 L193.5,156.44 L194,156.46 L194.5,156.48 L195,156.49 L195.5,156.49 L196,156.5 L196.5,156.5 L197,156.5 L197.5,156.5 L198,156.5 L198.5,156.5 L199,156.5 L199.5,156.5 L200,156.5 L200.5,156.5 L201,156.5 L201.5,156.5 L202,156.5 L202.5,156.5 L203,156.5 L203.5,156.5 L204,156.5 L204.5,156.5 L205,156.5 L205.5,156.5 L206,156.5 L206.5,156.5 L207,156.5 L207.5,156.5 L208,156.5 L208.5,156.5 L209,156.5 L209.5,156.5 L210,156.5 L210.5,156.5 L211,156.5 L211.5,156.5 L212,156.5 L212.5,156.5 L213,156.5 L213.5,156.5" stroke="#000"/>
<path d="M56.5,156.5 L57,156.5 L57.5,156.5 L58,156.5 L58.5,156.5 L59,156.5 L59.5,156.5 L60,156.5 L60.5,156.5 L61,156.5 L61.5,156.5 L62,156.5 L62.5,156.5 L63,156.5 L63.5,156.5 L64,156.5 L64.5,156.5 L65,156.5 L65.5,156.5 L66,156.5 L66.5,156.5 L67,156.5 L67.5,156.5 L68,156.5 L68.5,156.5 L69,156.5 L69.5,156.5 L70,156.5 L70.5,156.5 L71,156.5 L71.5,156.5 L72,156.5 L72.5,156.5 L73,156.5 L73.5,156.5 L74,156.5 L74.5,156.5 L75,156.5 L75.5,156.5 L76,156.5 L76.5,156.5 L77,156.5 L77.5,156.5 L78,156.5 L78.5,156.5 L79,156.5 L79.5,156.5 L80,156.5 L80.5,156.5 L81,156.5 L81.5,156.5 L82,156.5 L82.5,156.5 L83,156.5 L83.5,156.5 L84,156.5 L84.5,156.5 L85,156.49 L85.5,156.48 L86,156.47 L86.5,156.46 L87,156.43 L87.5,156.39 L88,156.34 L88.5,156.27 L89,156.19 L89.5,156.09 L90,155.97 L90.5,155.84 L91,155.68 L91.5,155.51 L92,155.33 L92.5,155.12 L93,154.89 L93.5,154.63 L94,154.35 L94.5,154.03 L95,153.67 L95.5,153.27 L96,152.82 L96.5,152.33 L97,151.8 L97.5,151.23 L98,150.61 L98.5,149.97 L99,149.29 L99.5,148.59 L100,147.87 L100.5,147.13 L101,146.36 L101.5,145.58 L102,144.79 L102.5,143.97 L103,143.12 L103.5,142.26 L104,141.36 L104.5,140.44 L105,139.48 L105.5,138.49 L106,137.47 L106.5,136.42 L107,135.33 L107.5,134.21 L108,133.06 L108.5,131.86 L109,130.63 L109.5,129.35 L110,128.03 L110.5,126.67 L111,125.26 L111.5,123.8 L112,122.31 L112.5,120.77 L113,119.2 L113.5,117.58 L114,115.94 L114.5,114.26 L115,112.54 L115.5,110.79 L116,109.01 L116.5,107.19 L117,105.34 L117.5,103.46 L118,101.55 L118.5,99.62 L119,97.66 L119.5,95.67 L120,93.64 L120.5,91.55 L121,89.37 L121.5,87.09 L122,84.67 L122.5,82.08 L123,79.33 L123.5,76.41 L124,73.38 L124.5,70.27 L125,67.16 L125.5,64.13 L126,61.24 L126.5,58.54 L127,56.04 L127.5,53.74 L128,51.63 L128.5,49.67 L129,47.83 L129.5,46.08 L130,44.39 L130.5,42.75 L131,41.14 L131.5,39.55 L132,37.99 L132.5,36.45 L133,34.94 L133.5,33.45 L134,31.99 L134.5,30.55 L135,29.13 L135.5,27.74 L136,26.39 L136.5,25.09 L137,23.83 L137.5,22.64 L138,21.53 L138.5,20.5 L139,19.55 L139.5,18.7 L140,17.94 L140.5,17.27 L141,16.7 L141.5,16.24 L142,15.9 L142.5,15.67 L143,15.59 L143.5,15.65 L144,15.87 L144.5,16.24 L145,16.76 L145.5,17.42 L146,18.22 L146.5,19.14 L147,20.17 L147.5,21.32 L148,22.55 L148.5,23.87 L149,25.26 L149.5,26.72 L150,28.25 L150.5,29.84 L151,31.5 L151.5,33.25 L152,35.09 L152.5,37.06 L153,39.18 L153.5,41.47 L154,43.95 L154.5,46.64 L155,49.56 L155.5,52.7 L156,56.07 L156.5,59.62 L157,63.3 L157.5,67.04 L158,70.75 L158.5,74.34 L159,77.74 L159.5,80.9 L160,83.8 L160.5,86.44 L161,88.87 L161.5,91.12 L162,93.24 L162.5,95.27 L163,97.25 L163.5,99.19 L164,101.11 L164.5,103 L165,104.88 L165.5,106.73 L166,108.55 L166.5,110.34 L167,112.1 L167.5,113.83 L168,115.52 L168.5,117.17 L169,118.79 L169.5,120.37 L170,121.92 L170.5,123.43 L171,124.89 L171.5,126.31 L172,127.69 L172.5,129.02 L173,130.31 L173.5,131.56 L174,132.77 L174.5,133.94 L175,135.07 L175.5,136.17 L176,137.24 L176.5,138.27 L177,139.26 L177.5,140.22 L178,141.15 L178.5,142.04 L179,142.9 L179.5,143.72 L180,144.52 L180.5,145.28 L181,146.02 L181.5,146.73 L182,147.42 L182.5,148.08 L183,148.72 L183.5,149.32 L184,149.9 L184.5,150.44 L185,150.96 L185.5,151.44 L186,151.89 L186.5,152.32 L187,152.71 L187.5,153.08 L188,153.43 L188.5,153.76 L189,154.07 L189.5,154.37 L190,154.65 L190.5,154.91 L191,155.16 L191.5,155.38 L192,155.59 L192.5,155.78 L193,155.94 L193.5,156.07 L194,156.19 L194.5,156.28 L195,156.35 L195.5,156.4 L196,156.44 L196.5,156.46 L197,156.48 L197.5,156.49 L198,156.49 L198.5,156.5 L199,156.5 L199.5,156.5 L200,156.5 L200.5,156.5 L201,156.5 L201.5,156.5 L202,156.5 L202.5,156.5 L203,156.5 L203.5,156.5 L204,156.5 L204.5,156.5 L205,156.5 L205.5,156.5 L206,156.5 L206.5,156.5 L207,156.5 L207.5,156.5 L208,156.5 L208.5,156.5 L209,156.5 L209.5,156.5 L210,156.5 L210.5,156.5 L211,156.5 L211.5,156.5 L212,156.5 L212.5,156.5 L213,156.5 L213.5,156.5" stroke="rgb(208,41,28)"/>
</g>
<g clip-path="url(#cp11)" fill="none" stroke-width="0.95">
<path d="M213.5,313.5 L214,313.5 L214.5,313.5 L215,313.49 L215.5,313.49 L216,313.49 L216.5,313.48 L217,313.48 L217.5,313.47 L218,313.45 L218.5,313.44 L219,313.41 L219.5,313.38 L220,313.34 L220.5,313.28 L221,313.21 L221.5,313.12 L222,313 L222.5,312.85 L223,312.65 L223.5,312.4 L224,312.09 L224.5,311.71 L225,311.24 L225.5,310.66 L226,309.95 L226.5,309.11 L227,308.09 L227.5,306.88 L228,305.46 L228.5,303.8 L229,301.86 L229.5,299.63 L230,297.07 L230.5,294.16 L231,290.86 L231.5,287.14 L232,282.97 L232.5,278.33 L233,273.19 L233.5,267.56 L234,261.45 L234.5,254.89 L235,247.96 L235.5,240.78 L236,233.48 L236.5,226.21 L237,219.16 L237.5,212.47 L238,206.26 L238.5,200.62 L239,195.6 L239.5,191.18 L240,187.35 L240.5,184.04 L241,181.22 L241.5,178.83 L242,176.85 L242.5,175.26 L243,174.04 L243.5,173.19 L244,172.71 L244.5,172.6 L245,172.82 L245.5,173.36 L246,174.21 L246.5,175.32 L247,176.69 L247.5,178.29 L248,180.1 L248.5,182.12 L249,184.36 L249.5,186.81 L250,189.49 L250.5,192.42 L251,195.6 L251.5,199.06 L252,202.8 L252.5,206.82 L253,211.12 L253.5,215.69 L254,220.48 L254.5,225.47 L255,230.61 L255.5,235.84 L256,241.08 L256.5,246.27 L257,251.34 L257.5,256.21 L258,260.81 L258.5,265.09 L259,269.01 L259.5,272.55 L260,275.69 L260.5,278.46 L261,280.88 L261.5,283.02 L262,284.92 L262.5,286.67 L263,288.31 L263.5,289.93 L264,291.55 L264.5,293.22 L265,294.95 L265.5,296.73 L266,298.54 L266.5,300.36 L267,302.14 L267.5,303.84 L268,305.44 L268.5,306.89 L269,308.19 L269.5,309.31 L270,310.26 L270.5,311.04 L271,311.68 L271.5,312.17 L272,312.55 L272.5,312.84 L273,313.04 L273.5,313.19 L274,313.3 L274.5,313.37 L275,313.42 L275.5,313.45 L276,313.47 L276.5,313.48 L277,313.49 L277.5,313.49 L278,313.5 L278.5,313.5 L279,313.5 L279.5,313.5 L280,313.5 L280.5,313.5 L281,313.5 L281.5,313.5 L282,313.5 L282.5,313.5 L283,313.5 L283.5,313.5 L284,313.5 L284.5,313.5 L285,313.5 L285.5,313.5 L286,313.5 L286.5,313.5 L287,313.5 L287.5,313.5 L288,313.5 L288.5,313.5 L289,313.5 L289.5,313.5 L290,313.5 L290.5,313.5 L291,313.5 L291.5,313.5 L292,313.5 L292.5,313.5 L293,313.5 L293.5,313.5 L294,313.5 L294.5,313.5 L295,313.5 L295.5,313.5 L296,313.5 L296.5,313.5 L297,313.5 L297.5,313.5 L298,313.5 L298.5,313.5 L299,313.5 L299.5,313.5 L300,313.5 L300.5,313.5 L301,313.5 L301.5,313.5 L302,313.5 L302.5,313.5 L303,313.5 L303.5,313.5 L304,313.5 L304.5,313.5 L305,313.5 L305.5,313.5 L306,313.5 L306.5,313.5 L307,313.5 L307.5,313.5 L308,313.5 L308.5,313.5 L309,313.5 L309.5,313.5 L310,313.5 L310.5,313.5 L311,313.5 L311.5,313.5 L312,313.5 L312.5,313.5 L313,313.5 L313.5,313.5 L314,313.5 L314.5,313.5 L315,313.5 L315.5,313.5 L316,313.5 L316.5,313.5 L317,313.5 L317.5,313.5 L318,313.5 L318.5,313.5 L319,313.5 L319.5,313.5 L320,313.5 L320.5,313.5 L321,313.5 L321.5,313.5 L322,313.5 L322.5,313.5 L323,313.5 L323.5,313.5 L324,313.5 L324.5,313.5 L325,313.5 L325.5,313.5 L326,313.5 L326.5,313.5 L327,313.5 L327.5,313.5 L328,313.5 L328.5,313.5 L329,313.5 L329.5,313.5 L330,313.5 L330.5,313.5 L331,313.5 L331.5,313.5 L332,313.5 L332.5,313.5 L333,313.5 L333.5,313.5 L334,313.5 L334.5,313.5 L335,313.5 L335.5,313.5 L336,313.5 L336.5,313.5 L337,313.5 L337.5,313.5 L338,313.5 L338.5,313.5 L339,313.5 L339.5,313.5 L340,313.5 L340.5,313.5 L341,313.5 L341.5,313.5 L342,313.5 L342.5,313.5 L343,313.5 L343.5,313.5 L344,313.5 L344.5,313.5 L345,313.5 L345.5,313.5 L346,313.5 L346.5,313.5 L347,313.5 L347.5,313.5 L348,313.5 L348.5,313.5 L349,313.5 L349.5,313.5 L350,313.5 L350.5,313.5 L351,313.5 L351.5,313.5 L352,313.5 L352.5,313.5 L353,313.5 L353.5,313.5 L354,313.5 L354.5,313.5 L355,313.5 L355.5,313.5 L356,313.5 L356.5,313.5 L357,313.5 L357.5,313.5 L358,313.5 L358.5,313.5 L359,313.5 L359.5,313.5 L360,313.5 L360.5,313.5 L361,313.5 L361.5,313.5 L362,313.5 L362.5,313.5 L363,313.5 L363.5,313.5 L364,313.5 L364.5,313.5 L365,313.5 L365.5,313.5 L366,313.5 L366.5,313.5 L367,313.5 L367.5,313.5 L368,313.5 L368.5,313.5 L369,313.5 L369.5,313.5 L370,313.5 L370.5,313.5" stroke="rgb(208,41,28)"/>
<path d="M213.5,313.47 L214,313.45 L214.5,313.43 L215,313.39 L215.5,313.35 L216,313.29 L216.5,313.21 L217,313.12 L217.5,313.01 L218,312.87 L218.5,312.71 L219,312.52 L219.5,312.31 L220,312.05 L220.5,311.77 L221,311.44 L221.5,311.07 L222,310.64 L222.5,310.17 L223,309.64 L223.5,309.05 L224,308.39 L224.5,307.67 L225,306.88 L225.5,306.03 L226,305.11 L226.5,304.12 L227,303.06 L227.5,301.92 L228,300.7 L228.5,299.4 L229,298 L229.5,296.51 L230,294.92 L230.5,293.24 L231,291.45 L231.5,289.55 L232,287.56 L232.5,285.47 L233,283.29 L233.5,281.04 L234,278.7 L234.5,276.31 L235,273.84 L235.5,271.3 L236,268.66 L236.5,265.89 L237,262.94 L237.5,259.75 L238,256.28 L238.5,252.49 L239,248.4 L239.5,244.05 L240,239.56 L240.5,235.03 L241,230.61 L241.5,226.38 L242,222.43 L242.5,218.79 L243,215.44 L243.5,212.37 L244,209.52 L244.5,206.85 L245,204.33 L245.5,201.93 L246,199.63 L246.5,197.42 L247,195.28 L247.5,193.22 L248,191.23 L248.5,189.31 L249,187.45 L249.5,185.65 L250,183.92 L250.5,182.27 L251,180.7 L251.5,179.24 L252,177.91 L252.5,176.71 L253,175.67 L253.5,174.78 L254,174.04 L254.5,173.46 L255,173.03 L255.5,172.74 L256,172.6 L256.5,172.59 L257,172.72 L257.5,172.98 L258,173.37 L258.5,173.89 L259,174.52 L259.5,175.26 L260,176.11 L260.5,177.07 L261,178.12 L261.5,179.25 L262,180.46 L262.5,181.72 L263,183.03 L263.5,184.37 L264,185.74 L264.5,187.13 L265,188.52 L265.5,189.92 L266,191.33 L266.5,192.74 L267,194.14 L267.5,195.55 L268,196.95 L268.5,198.36 L269,199.77 L269.5,201.2 L270,202.63 L270.5,204.09 L271,205.57 L271.5,207.09 L272,208.64 L272.5,210.24 L273,211.9 L273.5,213.61 L274,215.38 L274.5,217.22 L275,219.12 L275.5,221.08 L276,223.07 L276.5,225.09 L277,227.1 L277.5,229.09 L278,231.02 L278.5,232.87 L279,234.63 L279.5,236.27 L280,237.78 L280.5,239.17 L281,240.43 L281.5,241.58 L282,242.6 L282.5,243.52 L283,244.35 L283.5,245.09 L284,245.75 L284.5,246.35 L285,246.89 L285.5,247.38 L286,247.83 L286.5,248.24 L287,248.61 L287.5,248.96 L288,249.28 L288.5,249.57 L289,249.85 L289.5,250.1 L290,250.34 L290.5,250.56 L291,250.76 L291.5,250.94 L292,251.11 L292.5,251.27 L293,251.42 L293.5,251.56 L294,251.7 L294.5,251.85 L295,252.01 L295.5,252.18 L296,252.37 L296.5,252.6 L297,252.86 L297.5,253.16 L298,253.5 L298.5,253.88 L299,254.3 L299.5,254.76 L300,255.26 L300.5,255.79 L301,256.36 L301.5,256.96 L302,257.59 L302.5,258.26 L303,258.96 L303.5,259.69 L304,260.46 L304.5,261.26 L305,262.09 L305.5,262.94 L306,263.83 L306.5,264.74 L307,265.68 L307.5,266.64 L308,267.62 L308.5,268.62 L309,269.63 L309.5,270.65 L310,271.67 L310.5,272.69 L311,273.72 L311.5,274.74 L312,275.76 L312.5,276.76 L313,277.76 L313.5,278.74 L314,279.71 L314.5,280.65 L315,281.58 L315.5,282.48 L316,283.37 L316.5,284.23 L317,285.07 L317.5,285.9 L318,286.71 L318.5,287.51 L319,288.3 L319.5,289.07 L320,289.85 L320.5,290.61 L321,291.37 L321.5,292.13 L322,292.88 L322.5,293.62 L323,294.35 L323.5,295.07 L324,295.77 L324.5,296.45 L325,297.11 L325.5,297.74 L326,298.35 L326.5,298.93 L327,299.48 L327.5,300 L328,300.5 L328.5,300.98 L329,301.44 L329.5,301.89 L330,302.31 L330.5,302.73 L331,303.13 L331.5,303.51 L332,303.89 L332.5,304.26 L333,304.62 L333.5,304.97 L334,305.32 L334.5,305.66 L335,305.99 L335.5,306.32 L336,306.64 L336.5,306.95 L337,307.25 L337.5,307.55 L338,307.84 L338.5,308.12 L339,308.38 L339.5,308.64 L340,308.89 L340.5,309.12 L341,309.34 L341.5,309.55 L342,309.76 L342.5,309.95 L343,310.14 L343.5,310.32 L344,310.5 L344.5,310.66 L345,310.83 L345.5,310.99 L346,311.14 L346.5,311.29 L347,311.43 L347.5,311.57 L348,311.7 L348.5,311.82 L349,311.94 L349.5,312.05 L350,312.16 L350.5,312.26 L351,312.35 L351.5,312.44 L352,312.53 L352.5,312.61 L353,312.69 L353.5,312.76 L354,312.83 L354.5,312.9 L355,312.96 L355.5,313.03 L356,313.09 L356.5,313.14 L357,313.19 L357.5,313.24 L358,313.29 L358.5,313.33 L359,313.36 L359.5,313.4 L360,313.42 L360.5,313.44 L361,313.46 L361.5,313.47 L362,313.48 L362.5,313.49 L363,313.49 L363.5,313.5 L364,313.5 L364.5,313.5 L365,313.5 L365.5,313.5 L366,313.5 L366.5,313.5 L367,313.5 L367.5,313.5 L368,313.5 L368.5,313.5 L369,313.5 L369.5,313.5 L370,313.5 L370.5,313.5" stroke="rgb(30,115,178)"/>
<path d="M213.5,313.5 L214,313.5 L214.5,313.5 L215,313.5 L215.5,313.5 L216,313.5 L216.5,313.5 L217,313.5 L217.5,313.5 L218,313.5 L218.5,313.5 L219,313.5 L219.5,313.5 L220,313.5 L220.5,313.5 L221,313.5 L221.5,313.5 L222,313.49 L222.5,313.49 L223,313.48 L223.5,313.46 L224,313.44 L224.5,313.41 L225,313.36 L225.5,313.31 L226,313.25 L226.5,313.17 L227,313.08 L227.5,312.99 L228,312.88 L228.5,312.76 L229,312.64 L229.5,312.51 L230,312.37 L230.5,312.22 L231,312.07 L231.5,311.9 L232,311.73 L232.5,311.54 L233,311.35 L233.5,311.14 L234,310.92 L234.5,310.68 L235,310.43 L235.5,310.17 L236,309.9 L236.5,309.61 L237,309.31 L237.5,308.99 L238,308.66 L238.5,308.3 L239,307.93 L239.5,307.54 L240,307.12 L240.5,306.69 L241,306.23 L241.5,305.75 L242,305.25 L242.5,304.73 L243,304.19 L243.5,303.63 L244,303.04 L244.5,302.44 L245,301.81 L245.5,301.16 L246,300.48 L246.5,299.78 L247,299.05 L247.5,298.29 L248,297.51 L248.5,296.71 L249,295.88 L249.5,295.04 L250,294.18 L250.5,293.31 L251,292.42 L251.5,291.51 L252,290.59 L252.5,289.64 L253,288.65 L253.5,287.63 L254,286.55 L254.5,285.42 L255,284.21 L255.5,282.93 L256,281.57 L256.5,280.14 L257,278.63 L257.5,277.07 L258,275.45 L258.5,273.8 L259,272.13 L259.5,270.46 L260,268.77 L260.5,267.1 L261,265.42 L261.5,263.76 L262,262.09 L262.5,260.43 L263,258.76 L263.5,257.09 L264,255.39 L264.5,253.66 L265,251.89 L265.5,250.05 L266,248.14 L266.5,246.14 L267,244.04 L267.5,241.83 L268,239.52 L268.5,237.12 L269,234.65 L269.5,232.14 L270,229.62 L270.5,227.12 L271,224.66 L271.5,222.25 L272,219.89 L272.5,217.58 L273,215.32 L273.5,213.1 L274,210.92 L274.5,208.79 L275,206.71 L275.5,204.7 L276,202.77 L276.5,200.91 L277,199.14 L277.5,197.46 L278,195.85 L278.5,194.32 L279,192.83 L279.5,191.39 L280,189.99 L280.5,188.62 L281,187.28 L281.5,185.97 L282,184.7 L282.5,183.48 L283,182.31 L283.5,181.21 L284,180.18 L284.5,179.21 L285,178.33 L285.5,177.51 L286,176.77 L286.5,176.09 L287,175.49 L287.5,174.94 L288,174.45 L288.5,174.02 L289,173.64 L289.5,173.31 L290,173.04 L290.5,172.83 L291,172.68 L291.5,172.6 L292,172.59 L292.5,172.66 L293,172.8 L293.5,173.02 L294,173.32 L294.5,173.69 L295,174.14 L295.5,174.67 L296,175.27 L296.5,175.94 L297,176.68 L297.5,177.49 L298,178.37 L298.5,179.3 L299,180.29 L299.5,181.33 L300,182.43 L300.5,183.59 L301,184.82 L301.5,186.12 L302,187.5 L302.5,188.95 L303,190.48 L303.5,192.07 L304,193.71 L304.5,195.41 L305,197.14 L305.5,198.91 L306,200.72 L306.5,202.55 L307,204.43 L307.5,206.35 L308,208.31 L308.5,210.34 L309,212.42 L309.5,214.57 L310,216.8 L310.5,219.1 L311,221.47 L311.5,223.9 L312,226.36 L312.5,228.83 L313,231.27 L313.5,233.65 L314,235.92 L314.5,238.08 L315,240.12 L315.5,242.05 L316,243.87 L316.5,245.63 L317,247.34 L317.5,249.01 L318,250.66 L318.5,252.31 L319,253.95 L319.5,255.58 L320,257.2 L320.5,258.81 L321,260.4 L321.5,261.96 L322,263.51 L322.5,265.03 L323,266.52 L323.5,268 L324,269.44 L324.5,270.87 L325,272.26 L325.5,273.63 L326,274.96 L326.5,276.26 L327,277.52 L327.5,278.74 L328,279.92 L328.5,281.06 L329,282.16 L329.5,283.23 L330,284.26 L330.5,285.26 L331,286.24 L331.5,287.19 L332,288.11 L332.5,289.02 L333,289.91 L333.5,290.78 L334,291.64 L334.5,292.47 L335,293.29 L335.5,294.09 L336,294.88 L336.5,295.64 L337,296.39 L337.5,297.12 L338,297.84 L338.5,298.54 L339,299.22 L339.5,299.89 L340,300.55 L340.5,301.19 L341,301.81 L341.5,302.42 L342,303 L342.5,303.56 L343,304.1 L343.5,304.62 L344,305.1 L344.5,305.57 L345,306 L345.5,306.42 L346,306.81 L346.5,307.19 L347,307.55 L347.5,307.89 L348,308.22 L348.5,308.53 L349,308.83 L349.5,309.12 L350,309.39 L350.5,309.64 L351,309.88 L351.5,310.11 L352,310.32 L352.5,310.51 L353,310.7 L353.5,310.87 L354,311.02 L354.5,311.17 L355,311.31 L355.5,311.44 L356,311.56 L356.5,311.68 L357,311.79 L357.5,311.9 L358,312 L358.5,312.09 L359,312.18 L359.5,312.27 L360,312.35 L360.5,312.43 L361,312.51 L361.5,312.58 L362,312.65 L362.5,312.72 L363,312.79 L363.5,312.85 L364,312.91 L364.5,312.97 L365,313.03 L365.5,313.09 L366,313.14 L366.5,313.19 L367,313.24 L367.5,313.28 L368,313.32 L368.5,313.36 L369,313.39 L369.5,313.42 L370,313.44 L370.5,313.46" stroke="rgb(18,162,44)"/>
</g>
<g clip-path="url(#cp22)" fill="none" stroke-width="0.95">
<path d="M370.5,470.5 L371,470.5 L371.5,470.5 L372,470.5 L372.5,470.5 L373,470.5 L373.5,470.5 L374,470.5 L374.5,470.5 L375,470.5 L375.5,470.5 L376,470.5 L376.5,470.5 L377,470.49 L377.5,470.49 L378,470.47 L378.5,470.46 L379,470.43 L379.5,470.39 L380,470.34 L380.5,470.27 L381,470.18 L381.5,470.08 L382,469.95 L382.5,469.8 L383,469.63 L383.5,469.43 L384,469.2 L384.5,468.93 L385,468.61 L385.5,468.25 L386,467.83 L386.5,467.34 L387,466.78 L387.5,466.14 L388,465.42 L388.5,464.61 L389,463.69 L389.5,462.66 L390,461.49 L390.5,460.17 L391,458.67 L391.5,456.98 L392,455.06 L392.5,452.92 L393,450.53 L393.5,447.88 L394,444.96 L394.5,441.75 L395,438.23 L395.5,434.39 L396,430.18 L396.5,425.57 L397,420.53 L397.5,415.04 L398,409.08 L398.5,402.69 L399,395.92 L399.5,388.9 L400,381.76 L400.5,374.66 L401,367.77 L401.5,361.24 L402,355.2 L402.5,349.74 L403,344.92 L403.5,340.77 L404,337.31 L404.5,334.52 L405,332.37 L405.5,330.85 L406,329.92 L406.5,329.59 L407,329.87 L407.5,330.78 L408,332.38 L408.5,334.73 L409,337.89 L409.5,341.89 L410,346.75 L410.5,352.41 L411,358.78 L411.5,365.69 L412,372.93 L412.5,380.28 L413,387.49 L413.5,394.38 L414,400.8 L414.5,406.66 L415,411.97 L415.5,416.75 L416,421.08 L416.5,425.04 L417,428.71 L417.5,432.13 L418,435.36 L418.5,438.43 L419,441.34 L419.5,444.12 L420,446.76 L420.5,449.26 L421,451.61 L421.5,453.81 L422,455.85 L422.5,457.73 L423,459.46 L423.5,461.03 L424,462.45 L424.5,463.73 L425,464.87 L425.5,465.88 L426,466.77 L426.5,467.53 L427,468.18 L427.5,468.71 L428,469.15 L428.5,469.49 L429,469.77 L429.5,469.98 L430,470.13 L430.5,470.25 L431,470.34 L431.5,470.4 L432,470.44 L432.5,470.46 L433,470.48 L433.5,470.49 L434,470.49 L434.5,470.5 L435,470.5 L435.5,470.5 L436,470.5 L436.5,470.5 L437,470.5 L437.5,470.5 L438,470.5 L438.5,470.5 L439,470.5 L439.5,470.5 L440,470.5 L440.5,470.5 L441,470.5 L441.5,470.5 L442,470.5 L442.5,470.5 L443,470.5 L443.5,470.5 L444,470.5 L444.5,470.5 L445,470.5 L445.5,470.5 L446,470.5 L446.5,470.5 L447,470.5 L447.5,470.5 L448,470.5 L448.5,470.5 L449,470.5 L449.5,470.5 L450,470.5 L450.5,470.5 L451,470.5 L451.5,470.5 L452,470.5 L452.5,470.5 L453,470.5 L453.5,470.5 L454,470.5 L454.5,470.5 L455,470.5 L455.5,470.5 L456,470.5 L456.5,470.5 L457,470.5 L457.5,470.5 L458,470.5 L458.5,470.5 L459,470.5 L459.5,470.5 L460,470.5 L460.5,470.5 L461,470.5 L461.5,470.5 L462,470.5 L462.5,470.5 L463,470.5 L463.5,470.5 L464,470.5 L464.5,470.5 L465,470.5 L465.5,470.5 L466,470.5 L466.5,470.5 L467,470.5 L467.5,470.5 L468,470.5 L468.5,470.5 L469,470.5 L469.5,470.5 L470,470.5 L470.5,470.5 L471,470.5 L471.5,470.5 L472,470.5 L472.5,470.5 L473,470.5 L473.5,470.5 L474,470.5 L474.5,470.5 L475,470.5 L475.5,470.5 L476,470.5 L476.5,470.5 L477,470.5 L477.5,470.5 L478,470.5 L478.5,470.5 L479,470.5 L479.5,470.5 L480,470.5 L480.5,470.5 L481,470.5 L481.5,470.5 L482,470.5 L482.5,470.5 L483,470.5 L483.5,470.5 L484,470.5 L484.5,470.5 L485,470.5 L485.5,470.5 L486,470.5 L486.5,470.5 L487,470.5 L487.5,470.5 L488,470.5 L488.5,470.5 L489,470.5 L489.5,470.5 L490,470.5 L490.5,470.5 L491,470.5 L491.5,470.5 L492,470.5 L492.5,470.5 L493,470.5 L493.5,470.5 L494,470.5 L494.5,470.5 L495,470.5 L495.5,470.5 L496,470.5 L496.5,470.5 L497,470.5 L497.5,470.5 L498,470.5 L498.5,470.5 L499,470.5 L499.5,470.5 L500,470.5 L500.5,470.5 L501,470.5 L501.5,470.5 L502,470.5 L502.5,470.5 L503,470.5 L503.5,470.5 L504,470.5 L504.5,470.5 L505,470.5 L505.5,470.5 L506,470.5 L506.5,470.5 L507,470.5 L507.5,470.5 L508,470.5 L508.5,470.5 L509,470.5 L509.5,470.5 L510,470.5 L510.5,470.5 L511,470.5 L511.5,470.5 L512,470.5 L512.5,470.5 L513,470.5 L513.5,470.5 L514,470.5 L514.5,470.5 L515,470.5 L515.5,470.5 L516,470.5 L516.5,470.5 L517,470.5 L517.5,470.5 L518,470.5 L518.5,470.5 L519,470.5 L519.5,470.5 L520,470.5 L520.5,470.5 L521,470.5 L521.5,470.5 L522,470.5 L522.5,470.5 L523,470.5 L523.5,470.5 L524,470.5 L524.5,470.5 L525,470.5 L525.5,470.5 L526,470.5 L526.5,470.5 L527,470.5 L527.5,470.5" stroke="#000"/>
<path d="M370.5,470.36 L371,470.31 L371.5,470.23 L372,470.14 L372.5,470.03 L373,469.9 L373.5,469.75 L374,469.58 L374.5,469.39 L375,469.17 L375.5,468.94 L376,468.67 L376.5,468.37 L377,468.04 L377.5,467.65 L378,467.22 L378.5,466.73 L379,466.19 L379.5,465.59 L380,464.93 L380.5,464.22 L381,463.44 L381.5,462.61 L382,461.72 L382.5,460.76 L383,459.72 L383.5,458.61 L384,457.42 L384.5,456.14 L385,454.77 L385.5,453.3 L386,451.73 L386.5,450.06 L387,448.28 L387.5,446.38 L388,444.37 L388.5,442.23 L389,439.97 L389.5,437.6 L390,435.11 L390.5,432.51 L391,429.81 L391.5,427.01 L392,424.1 L392.5,421.06 L393,417.87 L393.5,414.52 L394,410.98 L394.5,407.23 L395,403.28 L395.5,399.13 L396,394.81 L396.5,390.38 L397,385.9 L397.5,381.43 L398,377.02 L398.5,372.72 L399,368.55 L399.5,364.51 L400,360.6 L400.5,356.83 L401,353.2 L401.5,349.72 L402,346.43 L402.5,343.36 L403,340.55 L403.5,338.05 L404,335.87 L404.5,334.04 L405,332.55 L405.5,331.39 L406,330.54 L406.5,329.97 L407,329.66 L407.5,329.59 L408,329.77 L408.5,330.21 L409,330.92 L409.5,331.94 L410,333.3 L410.5,335.02 L411,337.13 L411.5,339.64 L412,342.53 L412.5,345.78 L413,349.33 L413.5,353.13 L414,357.14 L414.5,361.29 L415,365.55 L415.5,369.88 L416,374.27 L416.5,378.7 L417,383.13 L417.5,387.55 L418,391.91 L418.5,396.18 L419,400.34 L419.5,404.33 L420,408.16 L420.5,411.8 L421,415.26 L421.5,418.56 L422,421.7 L422.5,424.7 L423,427.59 L423.5,430.36 L424,433.04 L424.5,435.63 L425,438.12 L425.5,440.51 L426,442.8 L426.5,444.99 L427,447.07 L427.5,449.04 L428,450.92 L428.5,452.68 L429,454.34 L429.5,455.89 L430,457.34 L430.5,458.68 L431,459.92 L431.5,461.07 L432,462.13 L432.5,463.11 L433,464.01 L433.5,464.84 L434,465.6 L434.5,466.28 L435,466.89 L435.5,467.44 L436,467.91 L436.5,468.31 L437,468.66 L437.5,468.95 L438,469.2 L438.5,469.41 L439,469.6 L439.5,469.75 L440,469.89 L440.5,470.01 L441,470.12 L441.5,470.2 L442,470.28 L442.5,470.34 L443,470.39 L443.5,470.42 L444,470.45 L444.5,470.47 L445,470.48 L445.5,470.49 L446,470.49 L446.5,470.5 L447,470.5 L447.5,470.5 L448,470.5 L448.5,470.5 L449,470.5 L449.5,470.5 L450,470.5 L450.5,470.5 L451,470.5 L451.5,470.5 L452,470.5 L452.5,470.5 L453,470.5 L453.5,470.5 L454,470.5 L454.5,470.5 L455,470.5 L455.5,470.5 L456,470.5 L456.5,470.5 L457,470.5 L457.5,470.5 L458,470.5 L458.5,470.5 L459,470.5 L459.5,470.5 L460,470.5 L460.5,470.5 L461,470.5 L461.5,470.5 L462,470.5 L462.5,470.5 L463,470.5 L463.5,470.5 L464,470.5 L464.5,470.5 L465,470.5 L465.5,470.5 L466,470.5 L466.5,470.5 L467,470.5 L467.5,470.5 L468,470.5 L468.5,470.5 L469,470.5 L469.5,470.5 L470,470.5 L470.5,470.5 L471,470.5 L471.5,470.5 L472,470.5 L472.5,470.5 L473,470.5 L473.5,470.5 L474,470.5 L474.5,470.5 L475,470.5 L475.5,470.5 L476,470.5 L476.5,470.5 L477,470.5 L477.5,470.5 L478,470.5 L478.5,470.5 L479,470.5 L479.5,470.5 L480,470.5 L480.5,470.5 L481,470.5 L481.5,470.5 L482,470.5 L482.5,470.5 L483,470.5 L483.5,470.5 L484,470.5 L484.5,470.5 L485,470.5 L485.5,470.5 L486,470.5 L486.5,470.5 L487,470.5 L487.5,470.5 L488,470.5 L488.5,470.5 L489,470.5 L489.5,470.5 L490,470.5 L490.5,470.5 L491,470.5 L491.5,470.5 L492,470.5 L492.5,470.5 L493,470.5 L493.5,470.5 L494,470.5 L494.5,470.5 L495,470.5 L495.5,470.5 L496,470.5 L496.5,470.5 L497,470.5 L497.5,470.5 L498,470.5 L498.5,470.5 L499,470.5 L499.5,470.5 L500,470.5 L500.5,470.5 L501,470.5 L501.5,470.5 L502,470.5 L502.5,470.5 L503,470.5 L503.5,470.5 L504,470.5 L504.5,470.5 L505,470.5 L505.5,470.5 L506,470.5 L506.5,470.5 L507,470.5 L507.5,470.5 L508,470.5 L508.5,470.5 L509,470.5 L509.5,470.5 L510,470.5 L510.5,470.5 L511,470.5 L511.5,470.5 L512,470.5 L512.5,470.5 L513,470.5 L513.5,470.5 L514,470.5 L514.5,470.5 L515,470.5 L515.5,470.5 L516,470.5 L516.5,470.5 L517,470.5 L517.5,470.5 L518,470.5 L518.5,470.5 L519,470.5 L519.5,470.5 L520,470.5 L520.5,470.5 L521,470.5 L521.5,470.5 L522,470.5 L522.5,470.5 L523,470.5 L523.5,470.5 L524,470.5 L524.5,470.5 L525,470.5 L525.5,470.5 L526,470.5 L526.5,470.5 L527,470.5 L527.5,470.5" stroke="rgb(18,162,44)"/>
<path d="M370.5,470.5 L371,470.5 L371.5,470.5 L372,470.5 L372.5,470.5 L373,470.5 L373.5,470.5 L374,470.5 L374.5,470.5 L375,470.5 L375.5,470.5 L376,470.5 L376.5,470.5 L377,470.49 L377.5,470.49 L378,470.48 L378.5,470.46 L379,470.43 L379.5,470.4 L380,470.34 L380.5,470.28 L381,470.2 L381.5,470.09 L382,469.97 L382.5,469.83 L383,469.67 L383.5,469.49 L384,469.28 L384.5,469.05 L385,468.79 L385.5,468.5 L386,468.16 L386.5,467.77 L387,467.32 L387.5,466.8 L388,466.21 L388.5,465.54 L389,464.77 L389.5,463.89 L390,462.9 L390.5,461.77 L391,460.48 L391.5,459.03 L392,457.4 L392.5,455.58 L393,453.58 L393.5,451.4 L394,449.05 L394.5,446.56 L395,443.95 L395.5,441.24 L396,438.47 L396.5,435.67 L397,432.86 L397.5,430.08 L398,427.33 L398.5,424.62 L399,421.97 L399.5,419.36 L400,416.77 L400.5,414.2 L401,411.61 L401.5,408.98 L402,406.29 L402.5,403.51 L403,400.6 L403.5,397.55 L404,394.34 L404.5,390.97 L405,387.46 L405.5,383.86 L406,380.21 L406.5,376.58 L407,373.01 L407.5,369.55 L408,366.23 L408.5,363.05 L409,360.02 L409.5,357.13 L410,354.38 L410.5,351.76 L411,349.26 L411.5,346.88 L412,344.63 L412.5,342.51 L413,340.53 L413.5,338.7 L414,337.02 L414.5,335.51 L415,334.17 L415.5,333.01 L416,332.02 L416.5,331.2 L417,330.55 L417.5,330.07 L418,329.75 L418.5,329.59 L419,329.59 L419.5,329.74 L420,330.04 L420.5,330.47 L421,331.03 L421.5,331.71 L422,332.49 L422.5,333.38 L423,334.36 L423.5,335.43 L424,336.59 L424.5,337.81 L425,339.1 L425.5,340.45 L426,341.84 L426.5,343.26 L427,344.72 L427.5,346.19 L428,347.68 L428.5,349.17 L429,350.66 L429.5,352.14 L430,353.61 L430.5,355.06 L431,356.49 L431.5,357.89 L432,359.26 L432.5,360.6 L433,361.91 L433.5,363.18 L434,364.41 L434.5,365.61 L435,366.78 L435.5,367.92 L436,369.03 L436.5,370.11 L437,371.17 L437.5,372.2 L438,373.19 L438.5,374.14 L439,375.05 L439.5,375.9 L440,376.69 L440.5,377.41 L441,378.05 L441.5,378.62 L442,379.12 L442.5,379.55 L443,379.93 L443.5,380.26 L444,380.55 L444.5,380.82 L445,381.07 L445.5,381.3 L446,381.52 L446.5,381.75 L447,381.98 L447.5,382.21 L448,382.45 L448.5,382.71 L449,382.97 L449.5,383.26 L450,383.56 L450.5,383.87 L451,384.21 L451.5,384.57 L452,384.96 L452.5,385.39 L453,385.86 L453.5,386.37 L454,386.93 L454.5,387.55 L455,388.23 L455.5,388.97 L456,389.78 L456.5,390.65 L457,391.59 L457.5,392.6 L458,393.68 L458.5,394.85 L459,396.08 L459.5,397.4 L460,398.78 L460.5,400.22 L461,401.7 L461.5,403.22 L462,404.74 L462.5,406.27 L463,407.78 L463.5,409.27 L464,410.73 L464.5,412.16 L465,413.55 L465.5,414.91 L466,416.24 L466.5,417.54 L467,418.83 L467.5,420.09 L468,421.34 L468.5,422.57 L469,423.79 L469.5,425 L470,426.19 L470.5,427.38 L471,428.56 L471.5,429.72 L472,430.89 L472.5,432.04 L473,433.18 L473.5,434.31 L474,435.44 L474.5,436.54 L475,437.64 L475.5,438.72 L476,439.77 L476.5,440.81 L477,441.83 L477.5,442.83 L478,443.8 L478.5,444.75 L479,445.68 L479.5,446.59 L480,447.49 L480.5,448.37 L481,449.23 L481.5,450.08 L482,450.91 L482.5,451.73 L483,452.53 L483.5,453.31 L484,454.07 L484.5,454.81 L485,455.53 L485.5,456.22 L486,456.89 L486.5,457.54 L487,458.16 L487.5,458.75 L488,459.32 L488.5,459.88 L489,460.41 L489.5,460.93 L490,461.43 L490.5,461.92 L491,462.39 L491.5,462.85 L492,463.3 L492.5,463.74 L493,464.16 L493.5,464.57 L494,464.96 L494.5,465.33 L495,465.69 L495.5,466.03 L496,466.35 L496.5,466.65 L497,466.93 L497.5,467.2 L498,467.45 L498.5,467.68 L499,467.91 L499.5,468.12 L500,468.32 L500.5,468.51 L501,468.69 L501.5,468.87 L502,469.04 L502.5,469.21 L503,469.37 L503.5,469.52 L504,469.66 L504.5,469.79 L505,469.91 L505.5,470.02 L506,470.12 L506.5,470.2 L507,470.27 L507.5,470.33 L508,470.38 L508.5,470.42 L509,470.45 L509.5,470.47 L510,470.48 L510.5,470.49 L511,470.49 L511.5,470.5 L512,470.5 L512.5,470.5 L513,470.5 L513.5,470.5 L514,470.5 L514.5,470.5 L515,470.5 L515.5,470.5 L516,470.5 L516.5,470.5 L517,470.5 L517.5,470.5 L518,470.5 L518.5,470.5 L519,470.5 L519.5,470.5 L520,470.5 L520.5,470.5 L521,470.5 L521.5,470.5 L522,470.5 L522.5,470.5 L523,470.5 L523.5,470.5 L524,470.5 L524.5,470.5 L525,470.5 L525.5,470.5 L526,470.5 L526.5,470.5 L527,470.5 L527.5,470.5" stroke="rgb(30,115,178)"/>
<path d="M370.5,470.5 L371,470.5 L371.5,470.5 L372,470.5 L372.5,470.5 L373,470.5 L373.5,470.5 L374,470.5 L374.5,470.5 L375,470.5 L375.5,470.5 L376,470.5 L376.5,470.5 L377,470.5 L377.5,470.5 L378,470.5 L378.5,470.5 L379,470.5 L379.5,470.5 L380,470.5 L380.5,470.5 L381,470.5 L381.5,470.5 L382,470.5 L382.5,470.5 L383,470.5 L383.5,470.5 L384,470.5 L384.5,470.5 L385,470.5 L385.5,470.5 L386,470.5 L386.5,470.5 L387,470.5 L387.5,470.5 L388,470.5 L388.5,470.5 L389,470.5 L389.5,470.5 L390,470.5 L390.5,470.5 L391,470.5 L391.5,470.5 L392,470.5 L392.5,470.5 L393,470.5 L393.5,470.5 L394,470.5 L394.5,470.5 L395,470.5 L395.5,470.5 L396,470.5 L396.5,470.5 L397,470.5 L397.5,470.5 L398,470.5 L398.5,470.5 L399,470.5 L399.5,470.5 L400,470.5 L400.5,470.5 L401,470.5 L401.5,470.5 L402,470.5 L402.5,470.5 L403,470.5 L403.5,470.49 L404,470.49 L404.5,470.48 L405,470.46 L405.5,470.42 L406,470.38 L406.5,470.31 L407,470.22 L407.5,470.1 L408,469.96 L408.5,469.78 L409,469.58 L409.5,469.35 L410,469.1 L410.5,468.83 L411,468.53 L411.5,468.22 L412,467.89 L412.5,467.55 L413,467.18 L413.5,466.8 L414,466.39 L414.5,465.97 L415,465.52 L415.5,465.04 L416,464.54 L416.5,464.01 L417,463.45 L417.5,462.87 L418,462.25 L418.5,461.61 L419,460.94 L419.5,460.23 L420,459.5 L420.5,458.72 L421,457.91 L421.5,457.06 L422,456.17 L422.5,455.23 L423,454.25 L423.5,453.23 L424,452.17 L424.5,451.07 L425,449.94 L425.5,448.78 L426,447.59 L426.5,446.38 L427,445.15 L427.5,443.9 L428,442.62 L428.5,441.31 L429,439.97 L429.5,438.6 L430,437.19 L430.5,435.73 L431,434.21 L431.5,432.64 L432,431.01 L432.5,429.3 L433,427.51 L433.5,425.64 L434,423.69 L434.5,421.66 L435,419.54 L435.5,417.34 L436,415.07 L436.5,412.71 L437,410.29 L437.5,407.8 L438,405.24 L438.5,402.63 L439,399.96 L439.5,397.25 L440,394.51 L440.5,391.74 L441,388.95 L441.5,386.15 L442,383.35 L442.5,380.56 L443,377.8 L443.5,375.07 L444,372.38 L444.5,369.75 L445,367.18 L445.5,364.67 L446,362.22 L446.5,359.83 L447,357.5 L447.5,355.22 L448,353 L448.5,350.82 L449,348.7 L449.5,346.65 L450,344.65 L450.5,342.74 L451,340.92 L451.5,339.21 L452,337.62 L452.5,336.17 L453,334.87 L453.5,333.72 L454,332.73 L454.5,331.9 L455,331.21 L455.5,330.66 L456,330.23 L456.5,329.92 L457,329.72 L457.5,329.61 L458,329.59 L458.5,329.65 L459,329.77 L459.5,329.95 L460,330.18 L460.5,330.44 L461,330.74 L461.5,331.06 L462,331.41 L462.5,331.78 L463,332.17 L463.5,332.57 L464,333 L464.5,333.44 L465,333.9 L465.5,334.37 L466,334.85 L466.5,335.34 L467,335.84 L467.5,336.35 L468,336.87 L468.5,337.4 L469,337.94 L469.5,338.49 L470,339.05 L470.5,339.63 L471,340.23 L471.5,340.84 L472,341.47 L472.5,342.11 L473,342.78 L473.5,343.48 L474,344.21 L474.5,344.97 L475,345.78 L475.5,346.64 L476,347.56 L476.5,348.55 L477,349.61 L477.5,350.74 L478,351.95 L478.5,353.23 L479,354.58 L479.5,355.99 L480,357.45 L480.5,358.97 L481,360.53 L481.5,362.13 L482,363.77 L482.5,365.44 L483,367.14 L483.5,368.87 L484,370.64 L484.5,372.44 L485,374.29 L485.5,376.19 L486,378.16 L486.5,380.2 L487,382.31 L487.5,384.48 L488,386.69 L488.5,388.93 L489,391.17 L489.5,393.38 L490,395.56 L490.5,397.68 L491,399.75 L491.5,401.76 L492,403.73 L492.5,405.67 L493,407.59 L493.5,409.49 L494,411.39 L494.5,413.29 L495,415.18 L495.5,417.06 L496,418.94 L496.5,420.8 L497,422.63 L497.5,424.44 L498,426.21 L498.5,427.95 L499,429.65 L499.5,431.31 L500,432.93 L500.5,434.52 L501,436.07 L501.5,437.59 L502,439.09 L502.5,440.55 L503,441.99 L503.5,443.4 L504,444.79 L504.5,446.16 L505,447.51 L505.5,448.85 L506,450.17 L506.5,451.46 L507,452.73 L507.5,453.96 L508,455.16 L508.5,456.31 L509,457.41 L509.5,458.45 L510,459.43 L510.5,460.35 L511,461.21 L511.5,462.02 L512,462.77 L512.5,463.48 L513,464.15 L513.5,464.77 L514,465.36 L514.5,465.91 L515,466.42 L515.5,466.89 L516,467.33 L516.5,467.72 L517,468.07 L517.5,468.39 L518,468.67 L518.5,468.91 L519,469.13 L519.5,469.33 L520,469.5 L520.5,469.66 L521,469.8 L521.5,469.93 L522,470.04 L522.5,470.14 L523,470.22 L523.5,470.29 L524,470.35 L524.5,470.4 L525,470.43 L525.5,470.46 L526,470.47 L526.5,470.48 L527,470.49 L527.5,470.5" stroke="rgb(208,41,28)"/>
</g>
<g clip-path="url(#cp33)" fill="none" stroke-width="0.95">
<path d="M527.5,627.5 L528,627.5 L528.5,627.5 L529,627.5 L529.5,627.5 L530,627.5 L530.5,627.5 L531,627.5 L531.5,627.5 L532,627.5 L532.5,627.5 L533,627.5 L533.5,627.5 L534,627.5 L534.5,627.5 L535,627.5 L535.5,627.5 L536,627.5 L536.5,627.49 L537,627.49 L537.5,627.48 L538,627.47 L538.5,627.45 L539,627.42 L539.5,627.39 L540,627.34 L540.5,627.29 L541,627.22 L541.5,627.14 L542,627.05 L542.5,626.95 L543,626.83 L543.5,626.71 L544,626.58 L544.5,626.44 L545,626.29 L545.5,626.13 L546,625.96 L546.5,625.78 L547,625.59 L547.5,625.38 L548,625.15 L548.5,624.91 L549,624.64 L549.5,624.35 L550,624.04 L550.5,623.7 L551,623.33 L551.5,622.95 L552,622.54 L552.5,622.12 L553,621.68 L553.5,621.22 L554,620.74 L554.5,620.25 L555,619.74 L555.5,619.21 L556,618.66 L556.5,618.08 L557,617.49 L557.5,616.86 L558,616.21 L558.5,615.53 L559,614.83 L559.5,614.09 L560,613.31 L560.5,612.5 L561,611.64 L561.5,610.75 L562,609.8 L562.5,608.81 L563,607.76 L563.5,606.66 L564,605.52 L564.5,604.33 L565,603.1 L565.5,601.84 L566,600.55 L566.5,599.23 L567,597.89 L567.5,596.52 L568,595.13 L568.5,593.71 L569,592.26 L569.5,590.76 L570,589.21 L570.5,587.61 L571,585.94 L571.5,584.2 L572,582.37 L572.5,580.47 L573,578.49 L573.5,576.43 L574,574.3 L574.5,572.1 L575,569.84 L575.5,567.51 L576,565.12 L576.5,562.63 L577,560.05 L577.5,557.35 L578,554.51 L578.5,551.54 L579,548.44 L579.5,545.24 L580,541.98 L580.5,538.72 L581,535.5 L581.5,532.38 L582,529.38 L582.5,526.51 L583,523.78 L583.5,521.17 L584,518.66 L584.5,516.25 L585,513.9 L585.5,511.62 L586,509.41 L586.5,507.25 L587,505.17 L587.5,503.17 L588,501.25 L588.5,499.42 L589,497.69 L589.5,496.07 L590,494.55 L590.5,493.15 L591,491.86 L591.5,490.7 L592,489.67 L592.5,488.77 L593,488.02 L593.5,487.42 L594,486.97 L594.5,486.7 L595,486.59 L595.5,486.65 L596,486.88 L596.5,487.27 L597,487.82 L597.5,488.52 L598,489.37 L598.5,490.37 L599,491.52 L599.5,492.82 L600,494.27 L600.5,495.89 L601,497.66 L601.5,499.6 L602,501.7 L602.5,503.96 L603,506.39 L603.5,508.97 L604,511.69 L604.5,514.54 L605,517.51 L605.5,520.57 L606,523.69 L606.5,526.83 L607,529.97 L607.5,533.06 L608,536.09 L608.5,539.03 L609,541.88 L609.5,544.63 L610,547.3 L610.5,549.92 L611,552.48 L611.5,555.03 L612,557.55 L612.5,560.08 L613,562.6 L613.5,565.12 L614,567.65 L614.5,570.17 L615,572.68 L615.5,575.16 L616,577.61 L616.5,580.02 L617,582.37 L617.5,584.65 L618,586.86 L618.5,589 L619,591.06 L619.5,593.05 L620,594.96 L620.5,596.79 L621,598.55 L621.5,600.24 L622,601.86 L622.5,603.41 L623,604.9 L623.5,606.32 L624,607.69 L624.5,609 L625,610.25 L625.5,611.44 L626,612.56 L626.5,613.63 L627,614.64 L627.5,615.59 L628,616.48 L628.5,617.32 L629,618.11 L629.5,618.86 L630,619.57 L630.5,620.24 L631,620.88 L631.5,621.48 L632,622.05 L632.5,622.58 L633,623.08 L633.5,623.55 L634,623.98 L634.5,624.38 L635,624.76 L635.5,625.11 L636,625.43 L636.5,625.73 L637,626.01 L637.5,626.27 L638,626.5 L638.5,626.71 L639,626.89 L639.5,627.04 L640,627.17 L640.5,627.27 L641,627.35 L641.5,627.4 L642,627.44 L642.5,627.47 L643,627.48 L643.5,627.49 L644,627.5 L644.5,627.5 L645,627.5 L645.5,627.5 L646,627.5 L646.5,627.5 L647,627.5 L647.5,627.5 L648,627.5 L648.5,627.5 L649,627.5 L649.5,627.5 L650,627.5 L650.5,627.5 L651,627.5 L651.5,627.5 L652,627.5 L652.5,627.5 L653,627.5 L653.5,627.5 L654,627.5 L654.5,627.5 L655,627.5 L655.5,627.5 L656,627.5 L656.5,627.5 L657,627.5 L657.5,627.5 L658,627.5 L658.5,627.5 L659,627.5 L659.5,627.5 L660,627.5 L660.5,627.5 L661,627.5 L661.5,627.5 L662,627.5 L662.5,627.5 L663,627.5 L663.5,627.5 L664,627.5 L664.5,627.5 L665,627.5 L665.5,627.5 L666,627.5 L666.5,627.5 L667,627.5 L667.5,627.5 L668,627.5 L668.5,627.5 L669,627.5 L669.5,627.5 L670,627.5 L670.5,627.5 L671,627.5 L671.5,627.5 L672,627.5 L672.5,627.5 L673,627.5 L673.5,627.5 L674,627.5 L674.5,627.5 L675,627.5 L675.5,627.5 L676,627.5 L676.5,627.5 L677,627.5 L677.5,627.5 L678,627.5 L678.5,627.5 L679,627.5 L679.5,627.5 L680,627.5 L680.5,627.5 L681,627.5 L681.5,627.5 L682,627.5 L682.5,627.5 L683,627.5 L683.5,627.5 L684,627.5 L684.5,627.5" stroke="#000"/>
<path d="M527.5,627.38 L528,627.35 L528.5,627.31 L529,627.26 L529.5,627.21 L530,627.15 L530.5,627.08 L531,627.01 L531.5,626.94 L532,626.86 L532.5,626.78 L533,626.69 L533.5,626.61 L534,626.51 L534.5,626.42 L535,626.32 L535.5,626.21 L536,626.1 L536.5,625.99 L537,625.87 L537.5,625.75 L538,625.62 L538.5,625.49 L539,625.35 L539.5,625.21 L540,625.07 L540.5,624.92 L541,624.76 L541.5,624.6 L542,624.44 L542.5,624.27 L543,624.1 L543.5,623.93 L544,623.74 L544.5,623.56 L545,623.37 L545.5,623.17 L546,622.96 L546.5,622.75 L547,622.52 L547.5,622.29 L548,622.04 L548.5,621.78 L549,621.49 L549.5,621.19 L550,620.87 L550.5,620.52 L551,620.14 L551.5,619.73 L552,619.28 L552.5,618.79 L553,618.27 L553.5,617.7 L554,617.1 L554.5,616.45 L555,615.77 L555.5,615.05 L556,614.3 L556.5,613.5 L557,612.67 L557.5,611.8 L558,610.89 L558.5,609.93 L559,608.93 L559.5,607.87 L560,606.77 L560.5,605.62 L561,604.44 L561.5,603.22 L562,601.98 L562.5,600.72 L563,599.45 L563.5,598.17 L564,596.89 L564.5,595.61 L565,594.32 L565.5,593.02 L566,591.7 L566.5,590.36 L567,588.99 L567.5,587.58 L568,586.12 L568.5,584.61 L569,583.04 L569.5,581.42 L570,579.73 L570.5,577.99 L571,576.21 L571.5,574.39 L572,572.55 L572.5,570.69 L573,568.83 L573.5,566.97 L574,565.1 L574.5,563.23 L575,561.34 L575.5,559.43 L576,557.47 L576.5,555.47 L577,553.4 L577.5,551.26 L578,549.06 L578.5,546.78 L579,544.45 L579.5,542.07 L580,539.67 L580.5,537.26 L581,534.86 L581.5,532.47 L582,530.12 L582.5,527.8 L583,525.53 L583.5,523.3 L584,521.12 L584.5,518.99 L585,516.92 L585.5,514.9 L586,512.93 L586.5,511.01 L587,509.14 L587.5,507.32 L588,505.55 L588.5,503.83 L589,502.16 L589.5,500.55 L590,499 L590.5,497.53 L591,496.14 L591.5,494.85 L592,493.66 L592.5,492.57 L593,491.58 L593.5,490.69 L594,489.89 L594.5,489.18 L595,488.55 L595.5,488 L596,487.53 L596.5,487.15 L597,486.86 L597.5,486.67 L598,486.59 L598.5,486.61 L599,486.75 L599.5,486.99 L600,487.33 L600.5,487.78 L601,488.32 L601.5,488.96 L602,489.69 L602.5,490.52 L603,491.46 L603.5,492.5 L604,493.66 L604.5,494.94 L605,496.36 L605.5,497.93 L606,499.65 L606.5,501.52 L607,503.53 L607.5,505.66 L608,507.91 L608.5,510.25 L609,512.68 L609.5,515.19 L610,517.78 L610.5,520.45 L611,523.2 L611.5,526.01 L612,528.88 L612.5,531.78 L613,534.7 L613.5,537.6 L614,540.47 L614.5,543.31 L615,546.09 L615.5,548.82 L616,551.49 L616.5,554.11 L617,556.67 L617.5,559.16 L618,561.6 L618.5,563.97 L619,566.28 L619.5,568.52 L620,570.7 L620.5,572.81 L621,574.86 L621.5,576.85 L622,578.78 L622.5,580.67 L623,582.5 L623.5,584.3 L624,586.06 L624.5,587.77 L625,589.46 L625.5,591.11 L626,592.73 L626.5,594.32 L627,595.87 L627.5,597.39 L628,598.86 L628.5,600.29 L629,601.68 L629.5,603.03 L630,604.34 L630.5,605.61 L631,606.85 L631.5,608.05 L632,609.21 L632.5,610.34 L633,611.43 L633.5,612.48 L634,613.49 L634.5,614.46 L635,615.38 L635.5,616.24 L636,617.06 L636.5,617.83 L637,618.55 L637.5,619.23 L638,619.86 L638.5,620.47 L639,621.04 L639.5,621.58 L640,622.1 L640.5,622.58 L641,623.05 L641.5,623.48 L642,623.89 L642.5,624.27 L643,624.62 L643.5,624.94 L644,625.23 L644.5,625.5 L645,625.74 L645.5,625.95 L646,626.15 L646.5,626.33 L647,626.5 L647.5,626.65 L648,626.79 L648.5,626.91 L649,627.03 L649.5,627.13 L650,627.21 L650.5,627.28 L651,627.34 L651.5,627.39 L652,627.43 L652.5,627.45 L653,627.47 L653.5,627.48 L654,627.49 L654.5,627.5 L655,627.5 L655.5,627.5 L656,627.5 L656.5,627.5 L657,627.5 L657.5,627.5 L658,627.5 L658.5,627.5 L659,627.5 L659.5,627.5 L660,627.5 L660.5,627.5 L661,627.5 L661.5,627.5 L662,627.5 L662.5,627.5 L663,627.5 L663.5,627.5 L664,627.5 L664.5,627.5 L665,627.5 L665.5,627.5 L666,627.5 L666.5,627.5 L667,627.5 L667.5,627.5 L668,627.5 L668.5,627.5 L669,627.5 L669.5,627.5 L670,627.5 L670.5,627.5 L671,627.5 L671.5,627.5 L672,627.5 L672.5,627.5 L673,627.5 L673.5,627.5 L674,627.5 L674.5,627.5 L675,627.5 L675.5,627.5 L676,627.5 L676.5,627.5 L677,627.5 L677.5,627.5 L678,627.5 L678.5,627.5 L679,627.5 L679.5,627.5 L680,627.5 L680.5,627.5 L681,627.5 L681.5,627.5 L682,627.5 L682.5,627.5 L683,627.5 L683.5,627.5 L684,627.5 L684.5,627.5" stroke="rgb(30,115,178)"/>
<path d="M527.5,627.5 L528,627.5 L528.5,627.5 L529,627.5 L529.5,627.5 L530,627.5 L530.5,627.5 L531,627.5 L531.5,627.5 L532,627.5 L532.5,627.5 L533,627.5 L533.5,627.5 L534,627.5 L534.5,627.5 L535,627.5 L535.5,627.5 L536,627.5 L536.5,627.5 L537,627.5 L537.5,627.5 L538,627.5 L538.5,627.5 L539,627.5 L539.5,627.5 L540,627.5 L540.5,627.5 L541,627.5 L541.5,627.5 L542,627.5 L542.5,627.5 L543,627.5 L543.5,627.5 L544,627.5 L544.5,627.5 L545,627.5 L545.5,627.5 L546,627.5 L546.5,627.5 L547,627.5 L547.5,627.5 L548,627.5 L548.5,627.5 L549,627.5 L549.5,627.5 L550,627.5 L550.5,627.5 L551,627.5 L551.5,627.5 L552,627.5 L552.5,627.5 L553,627.5 L553.5,627.5 L554,627.49 L554.5,627.48 L555,627.46 L555.5,627.43 L556,627.39 L556.5,627.33 L557,627.24 L557.5,627.13 L558,626.99 L558.5,626.82 L559,626.62 L559.5,626.39 L560,626.13 L560.5,625.85 L561,625.54 L561.5,625.22 L562,624.87 L562.5,624.5 L563,624.12 L563.5,623.72 L564,623.29 L564.5,622.85 L565,622.38 L565.5,621.88 L566,621.36 L566.5,620.8 L567,620.21 L567.5,619.58 L568,618.93 L568.5,618.24 L569,617.52 L569.5,616.78 L570,616.02 L570.5,615.23 L571,614.43 L571.5,613.62 L572,612.79 L572.5,611.95 L573,611.1 L573.5,610.23 L574,609.35 L574.5,608.45 L575,607.54 L575.5,606.6 L576,605.64 L576.5,604.66 L577,603.65 L577.5,602.61 L578,601.54 L578.5,600.43 L579,599.29 L579.5,598.1 L580,596.87 L580.5,595.6 L581,594.27 L581.5,592.88 L582,591.44 L582.5,589.93 L583,588.35 L583.5,586.7 L584,584.97 L584.5,583.16 L585,581.28 L585.5,579.33 L586,577.31 L586.5,575.24 L587,573.13 L587.5,571 L588,568.85 L588.5,566.69 L589,564.53 L589.5,562.35 L590,560.14 L590.5,557.9 L591,555.61 L591.5,553.25 L592,550.81 L592.5,548.29 L593,545.69 L593.5,543.02 L594,540.29 L594.5,537.53 L595,534.74 L595.5,531.96 L596,529.18 L596.5,526.42 L597,523.69 L597.5,520.99 L598,518.33 L598.5,515.72 L599,513.16 L599.5,510.68 L600,508.27 L600.5,505.97 L601,503.78 L601.5,501.71 L602,499.77 L602.5,497.94 L603,496.23 L603.5,494.64 L604,493.17 L604.5,491.83 L605,490.62 L605.5,489.56 L606,488.66 L606.5,487.92 L607,487.34 L607.5,486.93 L608,486.68 L608.5,486.59 L609,486.65 L609.5,486.86 L610,487.22 L610.5,487.71 L611,488.33 L611.5,489.08 L612,489.94 L612.5,490.92 L613,492.01 L613.5,493.2 L614,494.5 L614.5,495.89 L615,497.38 L615.5,498.96 L616,500.62 L616.5,502.36 L617,504.19 L617.5,506.09 L618,508.09 L618.5,510.17 L619,512.36 L619.5,514.66 L620,517.07 L620.5,519.61 L621,522.26 L621.5,525.02 L622,527.89 L622.5,530.86 L623,533.89 L623.5,536.97 L624,540.07 L624.5,543.16 L625,546.2 L625.5,549.18 L626,552.07 L626.5,554.86 L627,557.55 L627.5,560.14 L628,562.63 L628.5,565.04 L629,567.38 L629.5,569.64 L630,571.84 L630.5,573.97 L631,576.05 L631.5,578.08 L632,580.05 L632.5,581.96 L633,583.82 L633.5,585.63 L634,587.39 L634.5,589.1 L635,590.76 L635.5,592.38 L636,593.96 L636.5,595.5 L637,596.99 L637.5,598.45 L638,599.88 L638.5,601.27 L639,602.63 L639.5,603.96 L640,605.27 L640.5,606.55 L641,607.8 L641.5,609.03 L642,610.23 L642.5,611.39 L643,612.51 L643.5,613.58 L644,614.61 L644.5,615.57 L645,616.48 L645.5,617.33 L646,618.12 L646.5,618.85 L647,619.54 L647.5,620.18 L648,620.78 L648.5,621.34 L649,621.88 L649.5,622.38 L650,622.86 L650.5,623.31 L651,623.73 L651.5,624.12 L652,624.48 L652.5,624.81 L653,625.11 L653.5,625.38 L654,625.63 L654.5,625.86 L655,626.07 L655.5,626.25 L656,626.42 L656.5,626.58 L657,626.73 L657.5,626.86 L658,626.98 L658.5,627.08 L659,627.17 L659.5,627.25 L660,627.32 L660.5,627.37 L661,627.41 L661.5,627.44 L662,627.46 L662.5,627.48 L663,627.49 L663.5,627.49 L664,627.5 L664.5,627.5 L665,627.5 L665.5,627.5 L666,627.5 L666.5,627.5 L667,627.5 L667.5,627.5 L668,627.5 L668.5,627.5 L669,627.5 L669.5,627.5 L670,627.5 L670.5,627.5 L671,627.5 L671.5,627.5 L672,627.5 L672.5,627.5 L673,627.5 L673.5,627.5 L674,627.5 L674.5,627.5 L675,627.5 L675.5,627.5 L676,627.5 L676.5,627.5 L677,627.5 L677.5,627.5 L678,627.5 L678.5,627.5 L679,627.5 L679.5,627.5 L680,627.5 L680.5,627.5 L681,627.5 L681.5,627.5 L682,627.5 L682.5,627.5 L683,627.5 L683.5,627.5 L684,627.5 L684.5,627.5" stroke="rgb(18,162,44)"/>
<path d="M527.5,627.5 L528,627.5 L528.5,627.5 L529,627.5 L529.5,627.5 L530,627.5 L530.5,627.5 L531,627.5 L531.5,627.5 L532,627.5 L532.5,627.5 L533,627.5 L533.5,627.5 L534,627.5 L534.5,627.5 L535,627.5 L535.5,627.5 L536,627.5 L536.5,627.5 L537,627.5 L537.5,627.5 L538,627.5 L538.5,627.5 L539,627.5 L539.5,627.5 L540,627.5 L540.5,627.5 L541,627.5 L541.5,627.5 L542,627.5 L542.5,627.5 L543,627.5 L543.5,627.5 L544,627.5 L544.5,627.5 L545,627.5 L545.5,627.5 L546,627.5 L546.5,627.5 L547,627.5 L547.5,627.5 L548,627.5 L548.5,627.5 L549,627.5 L549.5,627.5 L550,627.5 L550.5,627.5 L551,627.5 L551.5,627.5 L552,627.5 L552.5,627.5 L553,627.5 L553.5,627.5 L554,627.5 L554.5,627.5 L555,627.5 L555.5,627.5 L556,627.5 L556.5,627.5 L557,627.5 L557.5,627.5 L558,627.5 L558.5,627.49 L559,627.49 L559.5,627.48 L560,627.47 L560.5,627.45 L561,627.42 L561.5,627.38 L562,627.33 L562.5,627.27 L563,627.19 L563.5,627.11 L564,627.02 L564.5,626.93 L565,626.82 L565.5,626.72 L566,626.6 L566.5,626.49 L567,626.37 L567.5,626.25 L568,626.13 L568.5,626 L569,625.88 L569.5,625.75 L570,625.62 L570.5,625.48 L571,625.34 L571.5,625.21 L572,625.06 L572.5,624.92 L573,624.77 L573.5,624.61 L574,624.46 L574.5,624.29 L575,624.12 L575.5,623.94 L576,623.75 L576.5,623.55 L577,623.34 L577.5,623.12 L578,622.89 L578.5,622.64 L579,622.37 L579.5,622.09 L580,621.78 L580.5,621.46 L581,621.11 L581.5,620.74 L582,620.34 L582.5,619.92 L583,619.46 L583.5,618.98 L584,618.46 L584.5,617.91 L585,617.33 L585.5,616.7 L586,616.04 L586.5,615.34 L587,614.58 L587.5,613.78 L588,612.92 L588.5,611.99 L589,610.99 L589.5,609.92 L590,608.75 L590.5,607.5 L591,606.15 L591.5,604.72 L592,603.21 L592.5,601.62 L593,599.96 L593.5,598.23 L594,596.45 L594.5,594.61 L595,592.72 L595.5,590.77 L596,588.79 L596.5,586.77 L597,584.71 L597.5,582.63 L598,580.52 L598.5,578.41 L599,576.28 L599.5,574.15 L600,572.02 L600.5,569.9 L601,567.77 L601.5,565.64 L602,563.49 L602.5,561.31 L603,559.07 L603.5,556.76 L604,554.38 L604.5,551.91 L605,549.37 L605.5,546.78 L606,544.16 L606.5,541.54 L607,538.93 L607.5,536.37 L608,533.85 L608.5,531.37 L609,528.94 L609.5,526.56 L610,524.22 L610.5,521.93 L611,519.68 L611.5,517.48 L612,515.33 L612.5,513.24 L613,511.2 L613.5,509.22 L614,507.3 L614.5,505.45 L615,503.68 L615.5,501.97 L616,500.35 L616.5,498.8 L617,497.33 L617.5,495.94 L618,494.65 L618.5,493.44 L619,492.34 L619.5,491.35 L620,490.47 L620.5,489.71 L621,489.05 L621.5,488.5 L622,488.04 L622.5,487.65 L623,487.34 L623.5,487.08 L624,486.88 L624.5,486.74 L625,486.64 L625.5,486.59 L626,486.6 L626.5,486.65 L627,486.77 L627.5,486.94 L628,487.17 L628.5,487.48 L629,487.86 L629.5,488.33 L630,488.91 L630.5,489.6 L631,490.42 L631.5,491.37 L632,492.45 L632.5,493.68 L633,495.03 L633.5,496.52 L634,498.12 L634.5,499.84 L635,501.66 L635.5,503.59 L636,505.61 L636.5,507.72 L637,509.92 L637.5,512.2 L638,514.56 L638.5,517.02 L639,519.59 L639.5,522.26 L640,525.06 L640.5,527.97 L641,530.98 L641.5,534.06 L642,537.18 L642.5,540.28 L643,543.32 L643.5,546.24 L644,549.02 L644.5,551.62 L645,554.05 L645.5,556.32 L646,558.44 L646.5,560.44 L647,562.35 L647.5,564.2 L648,566 L648.5,567.77 L649,569.53 L649.5,571.28 L650,573.02 L650.5,574.75 L651,576.47 L651.5,578.17 L652,579.86 L652.5,581.53 L653,583.17 L653.5,584.79 L654,586.38 L654.5,587.95 L655,589.49 L655.5,591.01 L656,592.5 L656.5,593.97 L657,595.4 L657.5,596.81 L658,598.19 L658.5,599.53 L659,600.84 L659.5,602.12 L660,603.37 L660.5,604.58 L661,605.77 L661.5,606.93 L662,608.06 L662.5,609.16 L663,610.23 L663.5,611.27 L664,612.28 L664.5,613.25 L665,614.18 L665.5,615.06 L666,615.91 L666.5,616.72 L667,617.49 L667.5,618.22 L668,618.92 L668.5,619.59 L669,620.24 L669.5,620.86 L670,621.46 L670.5,622.03 L671,622.57 L671.5,623.08 L672,623.56 L672.5,624 L673,624.41 L673.5,624.78 L674,625.12 L674.5,625.42 L675,625.69 L675.5,625.93 L676,626.14 L676.5,626.33 L677,626.5 L677.5,626.66 L678,626.8 L678.5,626.92 L679,627.04 L679.5,627.13 L680,627.22 L680.5,627.29 L681,627.35 L681.5,627.4 L682,627.43 L682.5,627.46 L683,627.47 L683.5,627.48 L684,627.49 L684.5,627.5" stroke="rgb(208,41,28)"/>
</g>
<path d="M56.5,1.5H213.5V156.5H56.5ZM76.6,156.5v-4.2M115.8,156.5v-4.2M155.0,156.5v-4.2M194.3,156.5v-4.2M56.5,158.5H213.5V313.5H56.5ZM76.6,313.5v-4.2M76.6,158.5v4.2M115.8,313.5v-4.2M115.8,158.5v4.2M155.0,313.5v-4.2M155.0,158.5v4.2M194.3,313.5v-4.2M194.3,158.5v4.2M56.5,223.8h4.2M213.5,223.8h-4.2M56.5,279.8h4.2M213.5,279.8h-4.2M213.5,158.5H370.5V313.5H213.5ZM247.8,313.5v-4.2M304.4,313.5v-4.2M56.5,315.5H213.5V470.5H56.5ZM76.6,470.5v-4.2M76.6,315.5v4.2M115.8,470.5v-4.2M115.8,315.5v4.2M155.0,470.5v-4.2M155.0,315.5v4.2M194.3,470.5v-4.2M194.3,315.5v4.2M56.5,328.8h4.2M213.5,328.8h-4.2M56.5,366.6h4.2M213.5,366.6h-4.2M56.5,404.4h4.2M213.5,404.4h-4.2M56.5,442.0h4.2M213.5,442.0h-4.2M213.5,315.5H370.5V470.5H213.5ZM247.8,470.5v-4.2M247.8,315.5v4.2M304.4,470.5v-4.2M304.4,315.5v4.2M213.5,328.8h4.2M370.5,328.8h-4.2M213.5,366.6h4.2M370.5,366.6h-4.2M213.5,404.4h4.2M370.5,404.4h-4.2M213.5,442.0h4.2M370.5,442.0h-4.2M370.5,315.5H527.5V470.5H370.5ZM399.5,470.5v-4.2M437.4,470.5v-4.2M475.5,470.5v-4.2M513.3,470.5v-4.2M56.5,472.5H213.5V627.5H56.5ZM76.6,627.5v-4.2M76.6,472.5v4.2M115.8,627.5v-4.2M115.8,472.5v4.2M155.0,627.5v-4.2M155.0,472.5v4.2M194.3,627.5v-4.2M194.3,472.5v4.2M56.5,508.5h4.2M213.5,508.5h-4.2M56.5,542.7h4.2M213.5,542.7h-4.2M56.5,576.6h4.2M213.5,576.6h-4.2M56.5,610.4h4.2M213.5,610.4h-4.2M213.5,472.5H370.5V627.5H213.5ZM247.8,627.5v-4.2M247.8,472.5v4.2M304.4,627.5v-4.2M304.4,472.5v4.2M213.5,508.5h4.2M370.5,508.5h-4.2M213.5,542.7h4.2M370.5,542.7h-4.2M213.5,576.6h4.2M370.5,576.6h-4.2M213.5,610.4h4.2M370.5,610.4h-4.2M370.5,472.5H527.5V627.5H370.5ZM399.5,627.5v-4.2M399.5,472.5v4.2M437.4,627.5v-4.2M437.4,472.5v4.2M475.5,627.5v-4.2M475.5,472.5v4.2M513.3,627.5v-4.2M513.3,472.5v4.2M370.5,508.5h4.2M527.5,508.5h-4.2M370.5,542.7h4.2M527.5,542.7h-4.2M370.5,576.6h4.2M527.5,576.6h-4.2M370.5,610.4h4.2M527.5,610.4h-4.2M527.5,472.5H684.5V627.5H527.5ZM544.9,627.5v-4.2M579.4,627.5v-4.2M613.5,627.5v-4.2M647.6,627.5v-4.2" fill="none" stroke="#1e1e1e" stroke-width="1.25"/>
<g font-family="Liberation Sans, sans-serif" font-size="10.5" fill="#000" stroke="#000" stroke-width="0.15" text-anchor="middle">
<text transform="translate(76.2,642.9) rotate(-45) scale(1.09,1)" dy="0.36em">0.29</text>
<text transform="translate(115.45,642.9) rotate(-45) scale(1.09,1)" dy="0.36em">0.30</text>
<text transform="translate(154.5,642.9) rotate(-45) scale(1.09,1)" dy="0.36em">0.31</text>
<text transform="translate(193.8,642.9) rotate(-45) scale(1.09,1)" dy="0.36em">0.32</text>
<text transform="translate(248.2,647.9) rotate(-45) scale(1.09,1)" dy="0.36em">−0.005</text>
<text transform="translate(303.2,644.65) rotate(-45) scale(1.09,1)" dy="0.36em">0.000</text>
<text transform="translate(398.75,640.1) rotate(-45) scale(1.09,1)" dy="0.36em">68</text>
<text transform="translate(436.55,640.1) rotate(-45) scale(1.09,1)" dy="0.36em">70</text>
<text transform="translate(474.65,640.1) rotate(-45) scale(1.09,1)" dy="0.36em">72</text>
<text transform="translate(512.05,640.1) rotate(-45) scale(1.09,1)" dy="0.36em">74</text>
<text transform="translate(544.85,642.9) rotate(-45) scale(1.09,1)" dy="0.36em">0.68</text>
<text transform="translate(578.7,642.9) rotate(-45) scale(1.09,1)" dy="0.36em">0.69</text>
<text transform="translate(612.95,642.9) rotate(-45) scale(1.09,1)" dy="0.36em">0.70</text>
<text transform="translate(647.3,642.9) rotate(-45) scale(1.09,1)" dy="0.36em">0.71</text>
<text transform="translate(38.2,232.9) rotate(-45) scale(1.09,1)" dy="0.36em">0.000</text>
<text transform="translate(36.2,291.05) rotate(-45) scale(1.09,1)" dy="0.36em">−0.005</text>
<text transform="translate(42.75,333.7) rotate(-45) scale(1.09,1)" dy="0.36em">74</text>
<text transform="translate(42.75,371.65) rotate(-45) scale(1.09,1)" dy="0.36em">72</text>
<text transform="translate(42.75,409.1) rotate(-45) scale(1.09,1)" dy="0.36em">70</text>
<text transform="translate(42.75,446.35) rotate(-45) scale(1.09,1)" dy="0.36em">68</text>
<text transform="translate(40.95,516.75) rotate(-45) scale(1.09,1)" dy="0.36em">0.71</text>
<text transform="translate(40.95,549.7) rotate(-45) scale(1.09,1)" dy="0.36em">0.70</text>
<text transform="translate(40.95,583.4) rotate(-45) scale(1.09,1)" dy="0.36em">0.69</text>
<text transform="translate(40.95,617.35) rotate(-45) scale(1.09,1)" dy="0.36em">0.68</text>
</g>

<g font-family="Liberation Sans, sans-serif" fill="#000" stroke="#000" stroke-width="0.2">
<text x="124.6" y="672.2" font-size="14">&#937;<tspan font-size="10" font-style="italic" dy="2.4">m</tspan></text>
<text x="283.4" y="682.8" font-size="14">&#937;<tspan font-size="10" font-style="italic" dy="2.4">k</tspan></text>
<text x="440.4" y="666" font-size="14"><tspan font-style="italic">H</tspan><tspan font-size="10" dy="2.4">0</tspan></text>
<text x="596.2" y="672.2" font-size="14">&#937;<tspan font-size="10" dy="2.4">&#923;</tspan></text>
<text transform="translate(10.1,244.4) rotate(-90)" font-size="14">&#937;<tspan font-size="10" font-style="italic" dy="2.4">k</tspan></text>
<text transform="translate(26.4,401.9) rotate(-90)" font-size="14"><tspan font-style="italic">H</tspan><tspan font-size="10" dy="2.4">0</tspan></text>
<text transform="translate(20.6,559.1) rotate(-90)" font-size="14">&#937;<tspan font-size="10" dy="2.4">&#923;</tspan></text>
</g>

<g>
<rect x="327.8" y="1.5" width="85.5" height="68.8" rx="3" fill="#fff" fill-opacity="0.8" stroke="#d8d8d8" stroke-width="1"/>
<rect x="332" y="6" width="23.4" height="8.8" fill="rgb(208,40,28)"/>
<rect x="332" y="22.3" width="23.4" height="8.8" fill="rgb(30,115,178)"/>
<rect x="332" y="38.6" width="23.4" height="8.8" fill="rgb(18,162,44)"/>
<rect x="332" y="54.9" width="23.4" height="8.8" fill="#000"/>
<g font-family="Liberation Sans, sans-serif" font-size="11" fill="#000" stroke="#000" stroke-width="0.15">
<text transform="translate(364.4,14.4) scale(1.08,1)">Model A</text>
<text transform="translate(364.4,30.7) scale(1.08,1)">Model B</text>
<text transform="translate(364.4,47) scale(1.02,1)">kLCDM</text>
<text transform="translate(364.4,63.3) scale(0.98,1)">LCDM</text>
</g></g>
</svg></body></html>
